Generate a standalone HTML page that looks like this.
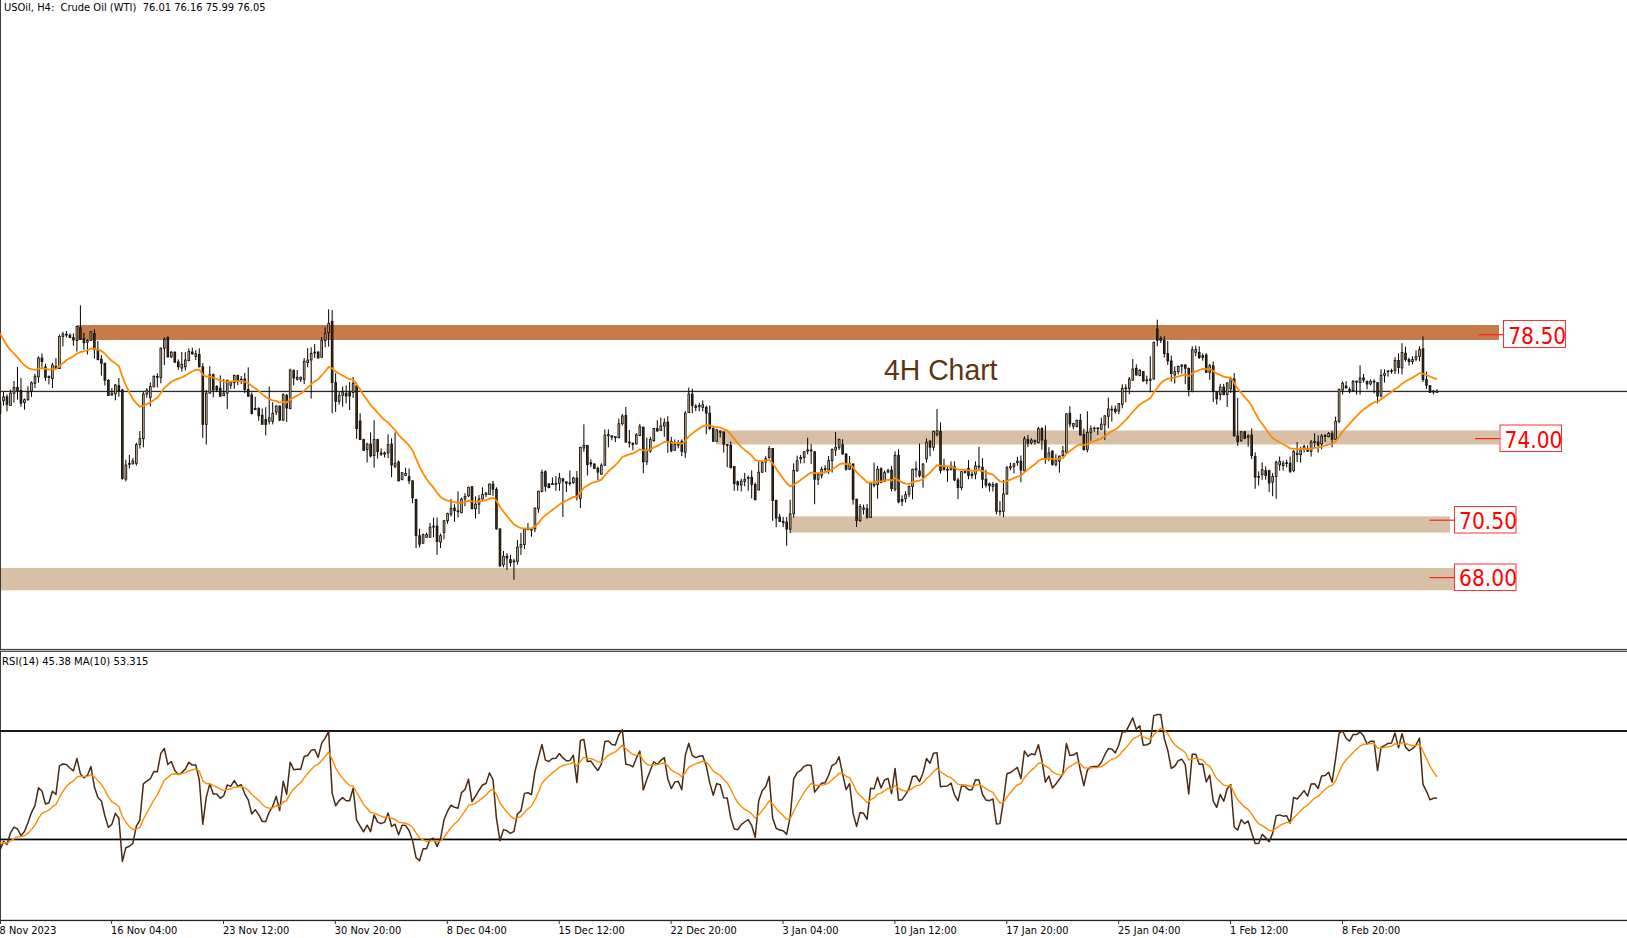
<!DOCTYPE html>
<html><head><meta charset="utf-8"><title>USOil H4</title>
<style>html,body{margin:0;padding:0;background:#fff;}svg{display:block;}</style></head>
<body><svg width="1627" height="938" viewBox="0 0 1627 938">
<rect x="0" y="0" width="1627" height="938" fill="#fff"/>
<rect x="77" y="325" width="1422" height="15" fill="#c57c4a"/>
<rect x="716" y="430.5" width="783" height="14" fill="#d8c0a6"/>
<rect x="790" y="516.4" width="660" height="16.2" fill="#d8c0a6"/>
<rect x="0" y="568" width="1454" height="22.3" fill="#d8c0a6"/>
<rect x="0" y="0" width="1" height="924" fill="#3c3c3c"/>
<rect x="0" y="390.8" width="1627" height="1.3" fill="#2a2a2a"/>
<text x="884" y="379.7" font-family="Liberation Sans, Arial, sans-serif" font-size="29.8" fill="#5a3614" textLength="113.5" lengthAdjust="spacingAndGlyphs">4H Chart</text>
<path d="M0.00 401.0V414.0M3.50 392.0V405.5M6.99 394.4V411.4M10.49 389.7V405.5M13.99 381.0V402.6M17.48 366.9V399.7M20.98 378.0V406.7M24.47 398.5V409.7M27.97 386.2V400.9M31.47 381.5V396.8M34.96 373.9V388.0M38.46 356.3V382.7M41.96 353.4V367.4M45.45 363.9V380.9M48.95 375.7V384.4M52.44 362.8V388.0M55.94 358.0V368.6M59.44 334.6V369.2M62.93 331.7V346.3M66.43 331.0V337.5M69.93 333.4V338.1M73.42 333.4V345.7M76.92 325.8V351.6M80.41 305.3V339.9M83.91 332.8V349.8M87.41 339.3V354.5M90.90 331.1V340.5M94.40 329.3V358.6M97.90 341.0V359.8M101.39 355.1V375.6M104.89 362.7V385.6M108.39 379.2V395.6M111.88 388.0V395.6M115.38 383.9V400.3M118.87 378.0V396.8M122.37 388.8V479.7M125.87 459.7V481.4M129.36 455.0V468.5M132.86 458.0V464.4M136.36 442.7V465.6M139.85 431.0V448.6M143.35 391.7V447.4M146.84 388.2V397.6M150.34 382.3V406.4M153.84 375.6V387.4M157.33 373.3V387.4M160.83 347.5V383.3M164.33 337.5V365.1M167.82 336.4V357.5M171.32 351.0V358.0M174.81 351.5V362.5M178.31 359.4V369.8M181.81 352.0V371.7M185.30 352.0V370.5M188.80 348.4V361.3M192.30 347.8V354.5M195.79 350.2V360.0M199.29 348.4V367.4M202.79 363.1V437.9M206.28 390.0V444.6M209.78 366.2V393.7M213.27 373.5V397.4M216.77 385.2V391.9M220.27 375.4V396.8M223.76 379.0V396.2M227.26 379.6V409.1M230.76 380.9V388.8M234.25 374.7V388.8M237.75 374.7V385.2M241.24 376.0V384.0M244.74 372.9V393.1M248.24 367.4V396.8M251.73 392.5V414.6M255.23 396.8V409.7M258.73 407.2V420.7M262.22 408.5V424.4M265.72 407.2V435.4M269.22 386.4V424.4M272.71 402.3V424.4M276.21 405.4V415.2M279.70 405.4V421.3M283.20 393.3V421.3M286.70 394.0V422.0M290.19 368.6V409.3M293.69 369.3V385.3M297.19 370.0V380.6M300.68 376.6V382.0M304.18 358.0V384.0M307.67 348.0V367.3M311.17 347.3V398.6M314.67 344.0V358.0M318.16 351.3V358.6M321.66 337.3V357.3M325.16 327.3V347.3M328.65 309.3V346.6M332.15 310.0V413.3M335.64 373.3V412.0M339.14 392.0V404.6M342.64 386.6V406.6M346.13 385.3V403.3M349.63 382.0V410.0M353.13 377.0V398.0M356.62 382.6V438.8M360.12 413.3V439.5M363.62 438.8V451.0M367.11 442.7V462.5M370.61 432.4V457.4M374.10 420.3V467.6M377.60 438.8V458.7M381.10 448.4V456.0M384.59 451.6V457.4M388.09 434.4V458.0M391.59 438.2V477.2M395.08 432.4V468.3M398.58 460.6V481.0M402.07 472.1V479.8M405.57 467.6V476.0M409.07 468.5V484.0M412.56 480.3V503.2M416.06 498.9V548.0M419.56 528.8V547.4M423.05 533.6V543.7M426.55 532.5V537.3M430.04 522.9V537.3M433.54 517.6V537.3M437.04 517.6V554.9M440.53 533.6V548.0M444.03 519.8V539.4M447.53 512.7V523.7M451.02 498.9V516.5M454.52 504.2V521.8M458.02 491.3V517.4M461.51 497.7V513.3M465.01 493.2V506.2M468.50 486.7V497.0M472.00 486.0V508.8M475.50 496.4V518.5M478.99 495.1V514.0M482.49 487.3V499.7M485.99 491.9V497.0M489.48 483.4V494.5M492.98 480.8V495.8M496.47 487.3V529.6M499.97 528.3V566.6M503.47 551.0V567.3M506.96 553.0V569.9M510.46 554.9V566.6M513.96 558.8V579.7M517.45 540.0V564.7M520.95 532.8V554.9M524.45 528.3V549.1M527.94 523.1V529.6M531.44 528.3V536.7M534.93 507.5V532.2M538.43 490.6V512.7M541.93 469.7V492.1M545.42 470.4V491.5M548.92 483.2V488.3M552.42 477.4V485.0M555.91 476.1V490.8M559.41 472.9V490.8M562.90 478.0V517.0M566.40 481.2V492.1M569.90 470.4V485.7M573.39 476.8V483.8M576.89 471.0V500.4M580.39 446.7V508.1M583.88 424.3V451.8M587.38 445.4V475.5M590.87 459.5V467.2M594.37 463.3V469.1M597.87 466.5V480.0M601.36 463.3V474.8M604.86 429.4V465.9M608.36 429.4V447.3M611.85 435.2V440.3M615.35 436.5V442.2M618.85 418.5V438.4M622.34 414.1V425.6M625.84 407.0V442.2M629.33 430.0V447.5M632.83 442.6V450.2M636.33 433.0V444.5M639.82 424.0V436.2M643.32 426.6V473.3M646.82 437.5V465.0M650.31 436.8V452.8M653.81 427.9V441.9M657.30 420.2V431.7M660.80 417.6V431.0M664.30 418.3V436.8M667.79 416.3V452.8M671.29 436.8V452.2M674.79 439.4V450.9M678.28 440.0V448.3M681.78 439.4V456.0M685.27 411.2V457.9M688.77 387.6V413.1M692.27 388.8V413.1M695.76 404.2V411.2M699.26 402.9V411.2M702.76 400.4V411.2M706.25 405.5V434.3M709.75 405.5V429.8M713.25 425.9V441.9M716.74 429.1V441.9M720.24 430.4V437.5M723.73 431.5V452.6M727.23 444.1V467.1M730.73 441.5V468.4M734.22 466.5V490.8M737.72 480.5V490.8M741.22 478.6V491.4M744.71 472.9V486.3M748.21 475.4V490.8M751.70 470.3V498.4M755.20 482.4V500.4M758.70 462.0V490.1M762.19 461.3V472.9M765.69 456.2V472.2M769.19 446.0V458.8M772.68 447.9V520.8M776.18 499.7V527.2M779.67 513.8V522.1M783.17 517.0V527.2M786.67 517.0V545.8M790.16 499.7V533.0M793.66 463.3V517.6M797.16 455.6V471.6M800.65 454.9V463.3M804.15 451.1V463.3M807.65 437.7V454.3M811.14 444.1V463.9M814.64 451.1V504.2M818.13 472.9V485.0M821.63 466.6V478.6M825.13 465.3V473.3M828.62 456.0V474.0M832.12 448.6V472.6M835.62 432.0V456.0M839.11 438.6V450.0M842.61 439.3V454.6M846.10 453.3V470.6M849.60 456.0V470.0M853.10 463.3V504.6M856.59 498.6V527.0M860.09 504.0V522.0M863.59 504.6V514.6M867.08 504.0V518.6M870.58 482.6V518.0M874.08 462.6V487.3M877.57 466.0V498.6M881.07 467.3V483.3M884.56 470.6V482.0M888.06 468.6V473.3M891.56 466.0V491.3M895.05 451.3V491.3M898.55 449.3V503.3M902.05 495.3V506.0M905.54 491.3V502.6M909.04 485.3V497.3M912.53 468.6V499.3M916.03 461.3V477.3M919.53 443.5V477.4M923.02 463.3V487.6M926.52 438.4V462.7M930.02 440.3V456.3M933.51 430.7V450.5M937.01 409.0V436.5M940.50 422.4V473.6M944.00 458.8V470.4M947.50 466.5V481.9M950.99 461.4V470.4M954.49 461.4V481.2M957.99 478.0V499.1M961.48 471.0V490.2M964.98 470.4V473.6M968.48 460.1V479.3M971.97 471.6V478.7M975.47 461.4V479.3M978.96 446.7V469.7M982.46 458.2V488.3M985.96 469.7V487.6M989.45 482.5V491.5M992.95 481.9V491.5M996.45 483.2V514.5M999.94 501.1V515.8M1003.44 480.0V517.0M1006.93 465.9V494.7M1010.43 462.7V470.4M1013.93 463.2V473.4M1017.42 456.8V465.7M1020.92 455.5V482.3M1024.42 436.3V472.1M1027.91 435.0V447.2M1031.41 438.2V444.6M1034.90 439.5V444.6M1038.40 426.7V443.3M1041.90 427.3V449.7M1045.39 425.4V463.8M1048.89 447.2V461.2M1052.39 450.4V465.7M1055.88 454.2V466.4M1059.38 455.5V472.7M1062.88 445.9V456.8M1066.37 413.3V452.9M1069.87 406.2V427.3M1073.36 422.9V429.3M1076.86 419.7V427.3M1080.36 413.9V435.6M1083.85 428.6V450.4M1087.35 411.3V452.3M1090.85 425.4V440.8M1094.34 426.7V431.8M1097.84 427.3V435.0M1101.33 417.7V429.9M1104.83 415.2V440.1M1108.33 397.6V428.3M1111.82 405.6V421.6M1115.32 405.6V413.6M1118.82 403.0V414.3M1122.31 384.3V408.3M1125.81 384.3V402.3M1129.30 377.0V394.3M1132.80 359.0V380.3M1136.30 364.3V375.6M1139.79 369.0V376.3M1143.29 371.0V381.6M1146.79 375.6V384.3M1150.28 356.3V392.3M1153.78 341.6V379.6M1157.28 319.7V346.3M1160.77 336.3V343.0M1164.27 336.3V357.6M1167.76 341.0V365.0M1171.26 355.6V381.6M1174.76 366.3V383.6M1178.25 365.6V374.3M1181.75 364.3V373.6M1185.25 364.3V384.3M1188.74 367.6V396.3M1192.24 346.3V392.3M1195.73 345.6V356.3M1199.23 346.3V359.0M1202.73 353.3V360.7M1206.22 353.3V373.1M1209.72 364.0V379.7M1213.22 361.5V402.0M1216.71 391.3V404.5M1220.21 383.8V400.4M1223.71 383.8V395.4M1227.20 382.2V407.0M1230.70 378.0V393.0M1234.19 373.1V436.7M1237.69 397.9V445.8M1241.19 430.9V441.7M1244.68 430.9V439.2M1248.18 434.2V446.6M1251.68 428.4V459.0M1255.17 452.4V488.8M1258.67 471.4V485.5M1262.16 462.3V479.7M1265.66 466.4V479.7M1269.16 469.7V492.1M1272.65 473.1V496.2M1276.15 460.7V498.7M1279.65 456.5V470.6M1283.14 460.7V470.6M1286.64 459.8V467.3M1290.13 456.5V473.1M1293.63 450.0V472.2M1297.13 442.0V462.0M1300.62 446.6V462.6M1304.12 444.6V452.6M1307.62 445.3V452.0M1311.11 440.0V456.6M1314.61 433.3V448.0M1318.11 435.3V452.6M1321.60 434.0V449.3M1325.10 434.0V442.0M1328.59 432.0V437.3M1332.09 430.6V447.3M1335.59 416.6V440.0M1339.08 388.6V423.3M1342.58 381.3V394.6M1346.08 381.3V388.6M1349.57 387.3V393.3M1353.07 380.0V391.3M1356.56 380.6V394.6M1360.06 365.3V394.6M1363.56 374.0V382.6M1367.05 380.6V389.3M1370.55 379.3V385.3M1374.05 379.3V393.3M1377.54 382.0V403.3M1381.04 369.3V397.3M1384.53 369.3V382.6M1388.03 370.6V376.6M1391.53 368.8V373.6M1395.02 357.2V374.0M1398.52 353.2V373.6M1402.02 343.2V374.4M1405.51 346.8V361.6M1409.01 357.6V365.6M1412.51 356.4V364.4M1416.00 350.4V361.2M1419.50 346.4V361.2M1422.99 336.4V382.0M1426.49 371.6V388.8M1429.99 385.2V392.8M1433.48 390.0V394.4M1436.98 389.2V392.8" stroke="#000" stroke-width="1.0" fill="none"/>
<rect x="-1.31" y="402.20" width="2.62" height="11.40" fill="#121212"/><rect x="-0.44" y="403.05" width="0.87" height="9.70" fill="#48290f"/><rect x="2.19" y="396.40" width="2.62" height="4.90" fill="#121212"/><rect x="3.06" y="397.25" width="0.87" height="3.20" fill="#d2b48c"/><rect x="5.68" y="396.40" width="2.62" height="8.40" fill="#121212"/><rect x="6.56" y="397.25" width="0.87" height="6.70" fill="#48290f"/><rect x="9.18" y="392.80" width="2.62" height="13.10" fill="#121212"/><rect x="10.05" y="393.65" width="0.87" height="11.40" fill="#d2b48c"/><rect x="12.68" y="387.00" width="2.62" height="6.60" fill="#121212"/><rect x="13.55" y="387.85" width="0.87" height="4.90" fill="#d2b48c"/><rect x="16.17" y="387.00" width="2.62" height="4.30" fill="#121212"/><rect x="17.04" y="387.85" width="0.87" height="2.60" fill="#48290f"/><rect x="19.67" y="389.90" width="2.62" height="13.70" fill="#121212"/><rect x="20.54" y="390.75" width="0.87" height="12.00" fill="#48290f"/><rect x="23.16" y="399.30" width="2.62" height="3.70" fill="#121212"/><rect x="24.04" y="400.15" width="0.87" height="2.00" fill="#d2b48c"/><rect x="26.66" y="391.60" width="2.62" height="8.50" fill="#121212"/><rect x="27.53" y="392.45" width="0.87" height="6.80" fill="#d2b48c"/><rect x="30.16" y="382.30" width="2.62" height="9.00" fill="#121212"/><rect x="31.03" y="383.15" width="0.87" height="7.30" fill="#d2b48c"/><rect x="33.65" y="375.80" width="2.62" height="7.90" fill="#121212"/><rect x="34.53" y="376.65" width="0.87" height="6.20" fill="#d2b48c"/><rect x="37.15" y="357.60" width="2.62" height="19.60" fill="#121212"/><rect x="38.02" y="358.45" width="0.87" height="17.90" fill="#d2b48c"/><rect x="40.65" y="357.60" width="2.62" height="4.40" fill="#121212"/><rect x="41.52" y="358.45" width="0.87" height="2.70" fill="#48290f"/><rect x="44.14" y="366.50" width="2.62" height="11.30" fill="#121212"/><rect x="45.01" y="367.35" width="0.87" height="9.60" fill="#48290f"/><rect x="47.64" y="375.80" width="2.62" height="2.00" fill="#121212"/><rect x="48.51" y="376.65" width="0.87" height="0.30" fill="#d2b48c"/><rect x="51.13" y="364.70" width="2.62" height="14.30" fill="#121212"/><rect x="52.01" y="365.55" width="0.87" height="12.60" fill="#d2b48c"/><rect x="54.63" y="365.90" width="2.62" height="3.10" fill="#121212"/><rect x="55.50" y="366.75" width="0.87" height="1.40" fill="#48290f"/><rect x="58.13" y="336.00" width="2.62" height="33.00" fill="#121212"/><rect x="59.00" y="336.85" width="0.87" height="31.30" fill="#d2b48c"/><rect x="61.62" y="333.60" width="2.62" height="3.20" fill="#121212"/><rect x="62.50" y="334.45" width="0.87" height="1.50" fill="#d2b48c"/><rect x="65.12" y="333.80" width="2.62" height="1.70" fill="#121212"/><rect x="68.62" y="334.80" width="2.62" height="3.10" fill="#121212"/><rect x="69.49" y="335.65" width="0.87" height="1.40" fill="#48290f"/><rect x="72.11" y="337.10" width="2.62" height="3.20" fill="#121212"/><rect x="72.99" y="337.95" width="0.87" height="1.50" fill="#48290f"/><rect x="75.61" y="326.00" width="2.62" height="14.90" fill="#121212"/><rect x="76.48" y="326.85" width="0.87" height="13.20" fill="#d2b48c"/><rect x="79.10" y="327.20" width="2.62" height="12.50" fill="#121212"/><rect x="79.98" y="328.05" width="0.87" height="10.80" fill="#48290f"/><rect x="82.60" y="338.30" width="2.62" height="4.90" fill="#121212"/><rect x="83.47" y="339.15" width="0.87" height="3.20" fill="#48290f"/><rect x="86.10" y="340.10" width="2.62" height="2.50" fill="#121212"/><rect x="86.97" y="340.95" width="0.87" height="0.80" fill="#d2b48c"/><rect x="89.59" y="331.30" width="2.62" height="9.60" fill="#121212"/><rect x="90.47" y="332.15" width="0.87" height="7.90" fill="#d2b48c"/><rect x="93.09" y="333.00" width="2.62" height="16.70" fill="#121212"/><rect x="93.96" y="333.85" width="0.87" height="15.00" fill="#48290f"/><rect x="96.59" y="348.90" width="2.62" height="11.30" fill="#121212"/><rect x="97.46" y="349.75" width="0.87" height="9.60" fill="#48290f"/><rect x="100.08" y="358.80" width="2.62" height="4.90" fill="#121212"/><rect x="100.96" y="359.65" width="0.87" height="3.20" fill="#48290f"/><rect x="103.58" y="362.90" width="2.62" height="17.80" fill="#121212"/><rect x="104.45" y="363.75" width="0.87" height="16.10" fill="#48290f"/><rect x="107.08" y="379.90" width="2.62" height="16.10" fill="#121212"/><rect x="107.95" y="380.75" width="0.87" height="14.40" fill="#48290f"/><rect x="110.57" y="392.80" width="2.62" height="2.60" fill="#121212"/><rect x="111.44" y="393.65" width="0.87" height="0.90" fill="#d2b48c"/><rect x="114.07" y="384.60" width="2.62" height="9.60" fill="#121212"/><rect x="114.94" y="385.45" width="0.87" height="7.90" fill="#d2b48c"/><rect x="117.56" y="385.20" width="2.62" height="6.10" fill="#121212"/><rect x="118.44" y="386.05" width="0.87" height="4.40" fill="#48290f"/><rect x="121.06" y="389.60" width="2.62" height="89.30" fill="#121212"/><rect x="121.93" y="390.45" width="0.87" height="87.60" fill="#48290f"/><rect x="124.56" y="464.60" width="2.62" height="14.90" fill="#121212"/><rect x="125.43" y="465.45" width="0.87" height="13.20" fill="#d2b48c"/><rect x="128.05" y="463.05" width="2.62" height="1.70" fill="#121212"/><rect x="131.55" y="460.50" width="2.62" height="3.80" fill="#121212"/><rect x="132.42" y="461.35" width="0.87" height="2.10" fill="#d2b48c"/><rect x="135.05" y="444.10" width="2.62" height="19.60" fill="#121212"/><rect x="135.92" y="444.95" width="0.87" height="17.90" fill="#d2b48c"/><rect x="138.54" y="438.20" width="2.62" height="6.70" fill="#121212"/><rect x="139.41" y="439.05" width="0.87" height="5.00" fill="#d2b48c"/><rect x="142.04" y="393.60" width="2.62" height="45.40" fill="#121212"/><rect x="142.91" y="394.45" width="0.87" height="43.70" fill="#d2b48c"/><rect x="145.53" y="389.60" width="2.62" height="4.80" fill="#121212"/><rect x="146.41" y="390.45" width="0.87" height="3.10" fill="#d2b48c"/><rect x="149.03" y="386.10" width="2.62" height="11.60" fill="#121212"/><rect x="149.90" y="386.95" width="0.87" height="9.90" fill="#d2b48c"/><rect x="152.53" y="375.80" width="2.62" height="11.40" fill="#121212"/><rect x="153.40" y="376.65" width="0.87" height="9.70" fill="#d2b48c"/><rect x="156.02" y="375.95" width="2.62" height="1.70" fill="#121212"/><rect x="159.52" y="347.70" width="2.62" height="30.10" fill="#121212"/><rect x="160.39" y="348.55" width="0.87" height="28.40" fill="#d2b48c"/><rect x="163.02" y="338.90" width="2.62" height="9.60" fill="#121212"/><rect x="163.89" y="339.75" width="0.87" height="7.90" fill="#d2b48c"/><rect x="166.51" y="337.10" width="2.62" height="20.20" fill="#121212"/><rect x="167.39" y="337.95" width="0.87" height="18.50" fill="#48290f"/><rect x="170.01" y="351.80" width="2.62" height="5.50" fill="#121212"/><rect x="170.88" y="352.65" width="0.87" height="3.80" fill="#d2b48c"/><rect x="173.50" y="351.70" width="2.62" height="11.00" fill="#121212"/><rect x="174.38" y="352.55" width="0.87" height="9.30" fill="#48290f"/><rect x="177.00" y="361.50" width="2.62" height="5.70" fill="#121212"/><rect x="177.87" y="362.35" width="0.87" height="4.00" fill="#48290f"/><rect x="180.50" y="363.90" width="2.62" height="4.50" fill="#121212"/><rect x="181.37" y="364.75" width="0.87" height="2.80" fill="#d2b48c"/><rect x="183.99" y="359.60" width="2.62" height="7.60" fill="#121212"/><rect x="184.87" y="360.45" width="0.87" height="5.90" fill="#d2b48c"/><rect x="187.49" y="351.10" width="2.62" height="9.90" fill="#121212"/><rect x="188.36" y="351.95" width="0.87" height="8.20" fill="#d2b48c"/><rect x="190.99" y="351.60" width="2.62" height="2.70" fill="#121212"/><rect x="191.86" y="352.45" width="0.87" height="1.00" fill="#48290f"/><rect x="194.48" y="353.50" width="2.62" height="3.30" fill="#121212"/><rect x="195.36" y="354.35" width="0.87" height="1.60" fill="#d2b48c"/><rect x="197.98" y="354.10" width="2.62" height="13.10" fill="#121212"/><rect x="198.85" y="354.95" width="0.87" height="11.40" fill="#48290f"/><rect x="201.48" y="366.40" width="2.62" height="58.40" fill="#121212"/><rect x="202.35" y="367.25" width="0.87" height="56.70" fill="#48290f"/><rect x="204.97" y="392.70" width="2.62" height="32.10" fill="#121212"/><rect x="205.84" y="393.55" width="0.87" height="30.40" fill="#d2b48c"/><rect x="208.47" y="374.30" width="2.62" height="19.20" fill="#121212"/><rect x="209.34" y="375.15" width="0.87" height="17.50" fill="#d2b48c"/><rect x="211.96" y="374.30" width="2.62" height="16.10" fill="#121212"/><rect x="212.84" y="375.15" width="0.87" height="14.40" fill="#48290f"/><rect x="215.46" y="386.00" width="2.62" height="4.40" fill="#121212"/><rect x="216.33" y="386.85" width="0.87" height="2.70" fill="#48290f"/><rect x="218.96" y="387.80" width="2.62" height="8.80" fill="#121212"/><rect x="219.83" y="388.65" width="0.87" height="7.10" fill="#48290f"/><rect x="222.45" y="392.70" width="2.62" height="3.30" fill="#121212"/><rect x="223.33" y="393.55" width="0.87" height="1.60" fill="#d2b48c"/><rect x="225.95" y="379.90" width="2.62" height="13.60" fill="#121212"/><rect x="226.82" y="380.75" width="0.87" height="11.90" fill="#d2b48c"/><rect x="229.45" y="381.70" width="2.62" height="3.90" fill="#121212"/><rect x="230.32" y="382.55" width="0.87" height="2.20" fill="#d2b48c"/><rect x="232.94" y="375.00" width="2.62" height="8.10" fill="#121212"/><rect x="233.82" y="375.85" width="0.87" height="6.40" fill="#d2b48c"/><rect x="236.44" y="375.00" width="2.62" height="6.90" fill="#121212"/><rect x="237.31" y="375.85" width="0.87" height="5.20" fill="#48290f"/><rect x="239.93" y="378.75" width="2.62" height="1.70" fill="#121212"/><rect x="243.43" y="378.60" width="2.62" height="11.30" fill="#121212"/><rect x="244.30" y="379.45" width="0.87" height="9.60" fill="#48290f"/><rect x="246.93" y="389.10" width="2.62" height="7.50" fill="#121212"/><rect x="247.80" y="389.95" width="0.87" height="5.80" fill="#48290f"/><rect x="250.42" y="394.60" width="2.62" height="19.20" fill="#121212"/><rect x="251.30" y="395.45" width="0.87" height="17.50" fill="#48290f"/><rect x="253.92" y="408.10" width="2.62" height="2.00" fill="#121212"/><rect x="254.79" y="408.95" width="0.87" height="0.30" fill="#48290f"/><rect x="257.42" y="408.10" width="2.62" height="8.10" fill="#121212"/><rect x="258.29" y="408.95" width="0.87" height="6.40" fill="#48290f"/><rect x="260.91" y="414.80" width="2.62" height="10.00" fill="#121212"/><rect x="261.79" y="415.65" width="0.87" height="8.30" fill="#48290f"/><rect x="264.41" y="419.10" width="2.62" height="5.70" fill="#121212"/><rect x="265.28" y="419.95" width="0.87" height="4.00" fill="#48290f"/><rect x="267.91" y="417.30" width="2.62" height="4.40" fill="#121212"/><rect x="268.78" y="418.15" width="0.87" height="2.70" fill="#d2b48c"/><rect x="271.40" y="413.00" width="2.62" height="8.70" fill="#121212"/><rect x="272.27" y="413.85" width="0.87" height="7.00" fill="#d2b48c"/><rect x="274.90" y="405.60" width="2.62" height="6.90" fill="#121212"/><rect x="275.77" y="406.45" width="0.87" height="5.20" fill="#d2b48c"/><rect x="278.39" y="405.60" width="2.62" height="14.90" fill="#121212"/><rect x="279.27" y="406.45" width="0.87" height="13.20" fill="#48290f"/><rect x="281.89" y="394.20" width="2.62" height="26.20" fill="#121212"/><rect x="282.76" y="395.05" width="0.87" height="24.50" fill="#d2b48c"/><rect x="285.39" y="394.90" width="2.62" height="13.50" fill="#121212"/><rect x="286.26" y="395.75" width="0.87" height="11.80" fill="#48290f"/><rect x="288.88" y="369.60" width="2.62" height="39.40" fill="#121212"/><rect x="289.76" y="370.45" width="0.87" height="37.70" fill="#d2b48c"/><rect x="292.38" y="370.20" width="2.62" height="8.20" fill="#121212"/><rect x="293.25" y="371.05" width="0.87" height="6.50" fill="#48290f"/><rect x="295.88" y="376.90" width="2.62" height="2.80" fill="#121212"/><rect x="296.75" y="377.75" width="0.87" height="1.10" fill="#d2b48c"/><rect x="299.37" y="376.90" width="2.62" height="2.80" fill="#121212"/><rect x="300.24" y="377.75" width="0.87" height="1.10" fill="#d2b48c"/><rect x="302.87" y="360.90" width="2.62" height="18.80" fill="#121212"/><rect x="303.74" y="361.75" width="0.87" height="17.10" fill="#d2b48c"/><rect x="306.36" y="359.60" width="2.62" height="3.40" fill="#121212"/><rect x="307.24" y="360.45" width="0.87" height="1.70" fill="#d2b48c"/><rect x="309.86" y="352.90" width="2.62" height="7.50" fill="#121212"/><rect x="310.73" y="353.75" width="0.87" height="5.80" fill="#d2b48c"/><rect x="313.36" y="351.75" width="2.62" height="1.70" fill="#121212"/><rect x="316.85" y="351.60" width="2.62" height="6.80" fill="#121212"/><rect x="317.73" y="352.45" width="0.87" height="5.10" fill="#48290f"/><rect x="320.35" y="340.20" width="2.62" height="17.50" fill="#121212"/><rect x="321.22" y="341.05" width="0.87" height="15.80" fill="#d2b48c"/><rect x="323.85" y="332.90" width="2.62" height="8.10" fill="#121212"/><rect x="324.72" y="333.75" width="0.87" height="6.40" fill="#d2b48c"/><rect x="327.34" y="322.90" width="2.62" height="10.10" fill="#121212"/><rect x="328.22" y="323.75" width="0.87" height="8.40" fill="#d2b48c"/><rect x="330.84" y="320.90" width="2.62" height="62.10" fill="#121212"/><rect x="331.71" y="321.75" width="0.87" height="60.40" fill="#48290f"/><rect x="334.33" y="382.20" width="2.62" height="19.50" fill="#121212"/><rect x="335.21" y="383.05" width="0.87" height="17.80" fill="#48290f"/><rect x="337.83" y="394.90" width="2.62" height="6.80" fill="#121212"/><rect x="338.70" y="395.75" width="0.87" height="5.10" fill="#d2b48c"/><rect x="341.33" y="391.60" width="2.62" height="4.10" fill="#121212"/><rect x="342.20" y="392.45" width="0.87" height="2.40" fill="#d2b48c"/><rect x="344.82" y="392.90" width="2.62" height="3.50" fill="#121212"/><rect x="345.70" y="393.75" width="0.87" height="1.80" fill="#48290f"/><rect x="348.32" y="391.60" width="2.62" height="4.80" fill="#121212"/><rect x="349.19" y="392.45" width="0.87" height="3.10" fill="#48290f"/><rect x="351.82" y="382.90" width="2.62" height="10.00" fill="#121212"/><rect x="352.69" y="383.75" width="0.87" height="8.30" fill="#d2b48c"/><rect x="355.31" y="385.40" width="2.62" height="43.60" fill="#121212"/><rect x="356.19" y="386.25" width="0.87" height="41.90" fill="#48290f"/><rect x="358.81" y="420.60" width="2.62" height="19.30" fill="#121212"/><rect x="359.68" y="421.45" width="0.87" height="17.60" fill="#48290f"/><rect x="362.31" y="439.10" width="2.62" height="11.70" fill="#121212"/><rect x="363.18" y="439.95" width="0.87" height="10.00" fill="#48290f"/><rect x="365.80" y="443.60" width="2.62" height="6.50" fill="#121212"/><rect x="366.67" y="444.45" width="0.87" height="4.80" fill="#d2b48c"/><rect x="369.30" y="443.60" width="2.62" height="12.80" fill="#121212"/><rect x="370.17" y="444.45" width="0.87" height="11.10" fill="#48290f"/><rect x="372.79" y="439.10" width="2.62" height="16.80" fill="#121212"/><rect x="373.67" y="439.95" width="0.87" height="15.10" fill="#d2b48c"/><rect x="376.29" y="439.10" width="2.62" height="12.90" fill="#121212"/><rect x="377.16" y="439.95" width="0.87" height="11.20" fill="#48290f"/><rect x="379.79" y="452.50" width="2.62" height="2.10" fill="#121212"/><rect x="380.66" y="453.35" width="0.87" height="0.40" fill="#48290f"/><rect x="383.28" y="452.50" width="2.62" height="2.10" fill="#121212"/><rect x="384.16" y="453.35" width="0.87" height="0.40" fill="#d2b48c"/><rect x="386.78" y="444.20" width="2.62" height="9.10" fill="#121212"/><rect x="387.65" y="445.05" width="0.87" height="7.40" fill="#d2b48c"/><rect x="390.28" y="443.60" width="2.62" height="21.80" fill="#121212"/><rect x="391.15" y="444.45" width="0.87" height="20.10" fill="#48290f"/><rect x="393.77" y="462.80" width="2.62" height="4.00" fill="#121212"/><rect x="394.64" y="463.65" width="0.87" height="2.30" fill="#d2b48c"/><rect x="397.27" y="461.50" width="2.62" height="19.90" fill="#121212"/><rect x="398.14" y="462.35" width="0.87" height="18.20" fill="#48290f"/><rect x="400.76" y="472.30" width="2.62" height="7.90" fill="#121212"/><rect x="401.64" y="473.15" width="0.87" height="6.20" fill="#d2b48c"/><rect x="404.26" y="473.00" width="2.62" height="2.70" fill="#121212"/><rect x="405.13" y="473.85" width="0.87" height="1.00" fill="#d2b48c"/><rect x="407.76" y="476.10" width="2.62" height="5.10" fill="#121212"/><rect x="408.63" y="476.95" width="0.87" height="3.40" fill="#48290f"/><rect x="411.25" y="480.40" width="2.62" height="17.80" fill="#121212"/><rect x="412.13" y="481.25" width="0.87" height="16.10" fill="#48290f"/><rect x="414.75" y="499.00" width="2.62" height="37.10" fill="#121212"/><rect x="415.62" y="499.85" width="0.87" height="35.40" fill="#48290f"/><rect x="418.25" y="535.30" width="2.62" height="9.30" fill="#121212"/><rect x="419.12" y="536.15" width="0.87" height="7.60" fill="#48290f"/><rect x="421.74" y="534.20" width="2.62" height="9.40" fill="#121212"/><rect x="422.62" y="535.05" width="0.87" height="7.70" fill="#d2b48c"/><rect x="425.24" y="534.20" width="2.62" height="3.50" fill="#121212"/><rect x="426.11" y="535.05" width="0.87" height="1.80" fill="#d2b48c"/><rect x="428.73" y="526.80" width="2.62" height="10.90" fill="#121212"/><rect x="429.61" y="527.65" width="0.87" height="9.20" fill="#d2b48c"/><rect x="432.23" y="525.75" width="2.62" height="1.70" fill="#121212"/><rect x="433.10" y="526.60" width="0.87" height="0.00" fill="#d2b48c"/><rect x="435.73" y="525.70" width="2.62" height="16.30" fill="#121212"/><rect x="436.60" y="526.55" width="0.87" height="14.60" fill="#48290f"/><rect x="439.22" y="535.30" width="2.62" height="7.20" fill="#121212"/><rect x="440.10" y="536.15" width="0.87" height="5.50" fill="#d2b48c"/><rect x="442.72" y="520.40" width="2.62" height="12.50" fill="#121212"/><rect x="443.59" y="521.25" width="0.87" height="10.80" fill="#d2b48c"/><rect x="446.22" y="513.10" width="2.62" height="8.10" fill="#121212"/><rect x="447.09" y="513.95" width="0.87" height="6.40" fill="#d2b48c"/><rect x="449.71" y="507.90" width="2.62" height="6.70" fill="#121212"/><rect x="450.59" y="508.75" width="0.87" height="5.00" fill="#d2b48c"/><rect x="453.21" y="507.70" width="2.62" height="3.40" fill="#121212"/><rect x="454.08" y="508.55" width="0.87" height="1.70" fill="#48290f"/><rect x="456.71" y="510.45" width="2.62" height="1.70" fill="#121212"/><rect x="460.20" y="498.60" width="2.62" height="14.50" fill="#121212"/><rect x="461.07" y="499.45" width="0.87" height="12.80" fill="#d2b48c"/><rect x="463.70" y="496.00" width="2.62" height="3.40" fill="#121212"/><rect x="464.57" y="496.85" width="0.87" height="1.70" fill="#d2b48c"/><rect x="467.19" y="486.90" width="2.62" height="9.30" fill="#121212"/><rect x="468.07" y="487.75" width="0.87" height="7.60" fill="#d2b48c"/><rect x="470.69" y="486.30" width="2.62" height="22.90" fill="#121212"/><rect x="471.56" y="487.15" width="0.87" height="21.20" fill="#48290f"/><rect x="474.19" y="503.80" width="2.62" height="5.40" fill="#121212"/><rect x="475.06" y="504.65" width="0.87" height="3.70" fill="#d2b48c"/><rect x="477.68" y="498.60" width="2.62" height="6.00" fill="#121212"/><rect x="478.56" y="499.45" width="0.87" height="4.30" fill="#d2b48c"/><rect x="481.18" y="494.10" width="2.62" height="5.30" fill="#121212"/><rect x="482.05" y="494.95" width="0.87" height="3.60" fill="#d2b48c"/><rect x="484.68" y="492.80" width="2.62" height="2.10" fill="#121212"/><rect x="485.55" y="493.65" width="0.87" height="0.40" fill="#d2b48c"/><rect x="488.17" y="483.70" width="2.62" height="11.20" fill="#121212"/><rect x="489.05" y="484.55" width="0.87" height="9.50" fill="#d2b48c"/><rect x="491.67" y="483.70" width="2.62" height="6.00" fill="#121212"/><rect x="492.54" y="484.55" width="0.87" height="4.30" fill="#48290f"/><rect x="495.16" y="488.90" width="2.62" height="40.40" fill="#121212"/><rect x="496.04" y="489.75" width="0.87" height="38.70" fill="#48290f"/><rect x="498.66" y="528.50" width="2.62" height="37.90" fill="#121212"/><rect x="499.53" y="529.35" width="0.87" height="36.20" fill="#48290f"/><rect x="502.16" y="555.80" width="2.62" height="9.30" fill="#121212"/><rect x="503.03" y="556.65" width="0.87" height="7.60" fill="#d2b48c"/><rect x="505.65" y="555.80" width="2.62" height="2.80" fill="#121212"/><rect x="506.53" y="556.65" width="0.87" height="1.10" fill="#48290f"/><rect x="509.15" y="559.10" width="2.62" height="4.00" fill="#121212"/><rect x="510.02" y="559.95" width="0.87" height="2.30" fill="#48290f"/><rect x="512.65" y="560.55" width="2.62" height="1.70" fill="#121212"/><rect x="513.52" y="561.40" width="0.87" height="0.00" fill="#d2b48c"/><rect x="516.14" y="546.70" width="2.62" height="15.10" fill="#121212"/><rect x="517.02" y="547.55" width="0.87" height="13.40" fill="#d2b48c"/><rect x="519.64" y="544.10" width="2.62" height="3.40" fill="#121212"/><rect x="520.51" y="544.95" width="0.87" height="1.70" fill="#d2b48c"/><rect x="523.14" y="528.50" width="2.62" height="16.40" fill="#121212"/><rect x="524.01" y="529.35" width="0.87" height="14.70" fill="#d2b48c"/><rect x="526.63" y="527.90" width="2.62" height="2.10" fill="#121212"/><rect x="527.50" y="528.75" width="0.87" height="0.40" fill="#d2b48c"/><rect x="530.13" y="528.50" width="2.62" height="2.10" fill="#121212"/><rect x="531.00" y="529.35" width="0.87" height="0.40" fill="#48290f"/><rect x="533.62" y="507.70" width="2.62" height="21.60" fill="#121212"/><rect x="534.50" y="508.55" width="0.87" height="19.90" fill="#d2b48c"/><rect x="537.12" y="490.80" width="2.62" height="18.40" fill="#121212"/><rect x="537.99" y="491.65" width="0.87" height="16.70" fill="#d2b48c"/><rect x="540.62" y="471.90" width="2.62" height="20.00" fill="#121212"/><rect x="541.49" y="472.75" width="0.87" height="18.30" fill="#d2b48c"/><rect x="544.11" y="471.20" width="2.62" height="15.60" fill="#121212"/><rect x="544.99" y="472.05" width="0.87" height="13.90" fill="#48290f"/><rect x="547.61" y="483.40" width="2.62" height="4.60" fill="#121212"/><rect x="548.48" y="484.25" width="0.87" height="2.90" fill="#48290f"/><rect x="551.11" y="483.25" width="2.62" height="1.70" fill="#121212"/><rect x="554.60" y="482.95" width="2.62" height="1.70" fill="#121212"/><rect x="558.10" y="477.60" width="2.62" height="6.00" fill="#121212"/><rect x="558.97" y="478.45" width="0.87" height="4.30" fill="#d2b48c"/><rect x="561.59" y="478.30" width="2.62" height="3.30" fill="#121212"/><rect x="562.47" y="479.15" width="0.87" height="1.60" fill="#48290f"/><rect x="565.09" y="481.50" width="2.62" height="2.10" fill="#121212"/><rect x="565.96" y="482.35" width="0.87" height="0.40" fill="#48290f"/><rect x="568.59" y="482.35" width="2.62" height="1.70" fill="#121212"/><rect x="572.08" y="477.60" width="2.62" height="5.30" fill="#121212"/><rect x="572.96" y="478.45" width="0.87" height="3.60" fill="#d2b48c"/><rect x="575.58" y="477.60" width="2.62" height="20.00" fill="#121212"/><rect x="576.45" y="478.45" width="0.87" height="18.30" fill="#48290f"/><rect x="579.08" y="446.90" width="2.62" height="52.00" fill="#121212"/><rect x="579.95" y="447.75" width="0.87" height="50.30" fill="#d2b48c"/><rect x="582.57" y="445.00" width="2.62" height="3.40" fill="#121212"/><rect x="583.45" y="445.85" width="0.87" height="1.70" fill="#d2b48c"/><rect x="586.07" y="445.00" width="2.62" height="20.00" fill="#121212"/><rect x="586.94" y="445.85" width="0.87" height="18.30" fill="#48290f"/><rect x="589.56" y="462.30" width="2.62" height="2.10" fill="#121212"/><rect x="590.44" y="463.15" width="0.87" height="0.40" fill="#48290f"/><rect x="593.06" y="463.60" width="2.62" height="5.20" fill="#121212"/><rect x="593.93" y="464.45" width="0.87" height="3.50" fill="#48290f"/><rect x="596.56" y="468.00" width="2.62" height="4.70" fill="#121212"/><rect x="597.43" y="468.85" width="0.87" height="3.00" fill="#48290f"/><rect x="600.05" y="464.80" width="2.62" height="9.80" fill="#121212"/><rect x="600.93" y="465.65" width="0.87" height="8.10" fill="#d2b48c"/><rect x="603.55" y="434.80" width="2.62" height="30.80" fill="#121212"/><rect x="604.42" y="435.65" width="0.87" height="29.10" fill="#d2b48c"/><rect x="607.05" y="434.10" width="2.62" height="2.10" fill="#121212"/><rect x="607.92" y="434.95" width="0.87" height="0.40" fill="#d2b48c"/><rect x="610.54" y="435.40" width="2.62" height="2.10" fill="#121212"/><rect x="611.42" y="436.25" width="0.87" height="0.40" fill="#48290f"/><rect x="614.04" y="436.25" width="2.62" height="1.70" fill="#121212"/><rect x="617.54" y="423.30" width="2.62" height="14.80" fill="#121212"/><rect x="618.41" y="424.15" width="0.87" height="13.10" fill="#d2b48c"/><rect x="621.03" y="415.60" width="2.62" height="8.50" fill="#121212"/><rect x="621.90" y="416.45" width="0.87" height="6.80" fill="#d2b48c"/><rect x="624.53" y="415.00" width="2.62" height="27.60" fill="#121212"/><rect x="625.40" y="415.85" width="0.87" height="25.90" fill="#48290f"/><rect x="628.02" y="441.65" width="2.62" height="1.70" fill="#121212"/><rect x="631.52" y="442.80" width="2.62" height="2.10" fill="#121212"/><rect x="632.39" y="443.65" width="0.87" height="0.40" fill="#48290f"/><rect x="635.02" y="434.50" width="2.62" height="9.70" fill="#121212"/><rect x="635.89" y="435.35" width="0.87" height="8.00" fill="#d2b48c"/><rect x="638.51" y="426.20" width="2.62" height="9.70" fill="#121212"/><rect x="639.39" y="427.05" width="0.87" height="8.00" fill="#d2b48c"/><rect x="642.01" y="426.80" width="2.62" height="35.40" fill="#121212"/><rect x="642.88" y="427.65" width="0.87" height="33.70" fill="#48290f"/><rect x="645.51" y="449.80" width="2.62" height="12.40" fill="#121212"/><rect x="646.38" y="450.65" width="0.87" height="10.70" fill="#d2b48c"/><rect x="649.00" y="439.00" width="2.62" height="12.30" fill="#121212"/><rect x="649.87" y="439.85" width="0.87" height="10.60" fill="#d2b48c"/><rect x="652.50" y="428.10" width="2.62" height="12.90" fill="#121212"/><rect x="653.37" y="428.95" width="0.87" height="11.20" fill="#d2b48c"/><rect x="655.99" y="428.10" width="2.62" height="3.30" fill="#121212"/><rect x="656.87" y="428.95" width="0.87" height="1.60" fill="#48290f"/><rect x="659.49" y="425.60" width="2.62" height="5.20" fill="#121212"/><rect x="660.36" y="426.45" width="0.87" height="3.50" fill="#d2b48c"/><rect x="662.99" y="422.30" width="2.62" height="4.10" fill="#121212"/><rect x="663.86" y="423.15" width="0.87" height="2.40" fill="#d2b48c"/><rect x="666.48" y="421.70" width="2.62" height="20.00" fill="#121212"/><rect x="667.36" y="422.55" width="0.87" height="18.30" fill="#48290f"/><rect x="669.98" y="440.90" width="2.62" height="10.40" fill="#121212"/><rect x="670.85" y="441.75" width="0.87" height="8.70" fill="#48290f"/><rect x="673.48" y="444.10" width="2.62" height="6.50" fill="#121212"/><rect x="674.35" y="444.95" width="0.87" height="4.80" fill="#d2b48c"/><rect x="676.97" y="443.40" width="2.62" height="2.10" fill="#121212"/><rect x="677.85" y="444.25" width="0.87" height="0.40" fill="#d2b48c"/><rect x="680.47" y="440.90" width="2.62" height="11.00" fill="#121212"/><rect x="681.34" y="441.75" width="0.87" height="9.30" fill="#48290f"/><rect x="683.96" y="412.70" width="2.62" height="39.90" fill="#121212"/><rect x="684.84" y="413.55" width="0.87" height="38.20" fill="#d2b48c"/><rect x="687.46" y="393.60" width="2.62" height="19.30" fill="#121212"/><rect x="688.33" y="394.45" width="0.87" height="17.60" fill="#d2b48c"/><rect x="690.96" y="393.60" width="2.62" height="12.30" fill="#121212"/><rect x="691.83" y="394.45" width="0.87" height="10.60" fill="#48290f"/><rect x="694.45" y="405.70" width="2.62" height="2.10" fill="#121212"/><rect x="695.33" y="406.55" width="0.87" height="0.40" fill="#48290f"/><rect x="697.95" y="405.10" width="2.62" height="2.00" fill="#121212"/><rect x="698.82" y="405.95" width="0.87" height="0.30" fill="#d2b48c"/><rect x="701.45" y="404.40" width="2.62" height="3.40" fill="#121212"/><rect x="702.32" y="405.25" width="0.87" height="1.70" fill="#d2b48c"/><rect x="704.94" y="407.00" width="2.62" height="6.50" fill="#121212"/><rect x="705.82" y="407.85" width="0.87" height="4.80" fill="#48290f"/><rect x="708.44" y="412.70" width="2.62" height="16.20" fill="#121212"/><rect x="709.31" y="413.55" width="0.87" height="14.50" fill="#48290f"/><rect x="711.94" y="428.10" width="2.62" height="13.60" fill="#121212"/><rect x="712.81" y="428.95" width="0.87" height="11.90" fill="#48290f"/><rect x="715.43" y="429.40" width="2.62" height="12.30" fill="#121212"/><rect x="716.30" y="430.25" width="0.87" height="10.60" fill="#d2b48c"/><rect x="718.93" y="430.60" width="2.62" height="2.10" fill="#121212"/><rect x="719.80" y="431.45" width="0.87" height="0.40" fill="#d2b48c"/><rect x="722.42" y="431.60" width="2.62" height="13.10" fill="#121212"/><rect x="723.30" y="432.45" width="0.87" height="11.40" fill="#48290f"/><rect x="725.92" y="444.10" width="2.62" height="1.70" fill="#121212"/><rect x="729.42" y="445.00" width="2.62" height="23.10" fill="#121212"/><rect x="730.29" y="445.85" width="0.87" height="21.40" fill="#48290f"/><rect x="732.91" y="466.10" width="2.62" height="18.00" fill="#121212"/><rect x="733.79" y="466.95" width="0.87" height="16.30" fill="#48290f"/><rect x="736.41" y="481.40" width="2.62" height="4.00" fill="#121212"/><rect x="737.28" y="482.25" width="0.87" height="2.30" fill="#48290f"/><rect x="739.91" y="480.80" width="2.62" height="4.60" fill="#121212"/><rect x="740.78" y="481.65" width="0.87" height="2.90" fill="#d2b48c"/><rect x="743.40" y="478.90" width="2.62" height="2.70" fill="#121212"/><rect x="744.27" y="479.75" width="0.87" height="1.00" fill="#d2b48c"/><rect x="746.90" y="477.15" width="2.62" height="1.70" fill="#121212"/><rect x="750.39" y="476.90" width="2.62" height="7.90" fill="#121212"/><rect x="751.27" y="477.75" width="0.87" height="6.20" fill="#48290f"/><rect x="753.89" y="484.00" width="2.62" height="16.10" fill="#121212"/><rect x="754.76" y="484.85" width="0.87" height="14.40" fill="#48290f"/><rect x="757.39" y="471.80" width="2.62" height="18.70" fill="#121212"/><rect x="758.26" y="472.65" width="0.87" height="17.00" fill="#d2b48c"/><rect x="760.88" y="462.20" width="2.62" height="10.40" fill="#121212"/><rect x="761.76" y="463.05" width="0.87" height="8.70" fill="#d2b48c"/><rect x="764.38" y="458.40" width="2.62" height="4.00" fill="#121212"/><rect x="765.25" y="459.25" width="0.87" height="2.30" fill="#d2b48c"/><rect x="767.88" y="448.10" width="2.62" height="9.80" fill="#121212"/><rect x="768.75" y="448.95" width="0.87" height="8.10" fill="#d2b48c"/><rect x="771.37" y="448.10" width="2.62" height="52.70" fill="#121212"/><rect x="772.25" y="448.95" width="0.87" height="51.00" fill="#48290f"/><rect x="774.87" y="500.00" width="2.62" height="18.70" fill="#121212"/><rect x="775.74" y="500.85" width="0.87" height="17.00" fill="#48290f"/><rect x="778.36" y="516.60" width="2.62" height="5.30" fill="#121212"/><rect x="779.24" y="517.45" width="0.87" height="3.60" fill="#48290f"/><rect x="781.86" y="521.10" width="2.62" height="2.00" fill="#121212"/><rect x="782.73" y="521.95" width="0.87" height="0.30" fill="#48290f"/><rect x="785.36" y="521.70" width="2.62" height="7.80" fill="#121212"/><rect x="786.23" y="522.55" width="0.87" height="6.10" fill="#48290f"/><rect x="788.85" y="513.40" width="2.62" height="16.10" fill="#121212"/><rect x="789.73" y="514.25" width="0.87" height="14.40" fill="#d2b48c"/><rect x="792.35" y="469.90" width="2.62" height="44.30" fill="#121212"/><rect x="793.22" y="470.75" width="0.87" height="42.60" fill="#d2b48c"/><rect x="795.85" y="460.30" width="2.62" height="11.00" fill="#121212"/><rect x="796.72" y="461.15" width="0.87" height="9.30" fill="#d2b48c"/><rect x="799.34" y="457.10" width="2.62" height="2.10" fill="#121212"/><rect x="800.22" y="457.95" width="0.87" height="0.40" fill="#d2b48c"/><rect x="802.84" y="451.30" width="2.62" height="6.60" fill="#121212"/><rect x="803.71" y="452.15" width="0.87" height="4.90" fill="#d2b48c"/><rect x="806.34" y="449.40" width="2.62" height="2.10" fill="#121212"/><rect x="807.21" y="450.25" width="0.87" height="0.40" fill="#d2b48c"/><rect x="809.83" y="449.65" width="2.62" height="1.70" fill="#121212"/><rect x="813.33" y="451.30" width="2.62" height="28.40" fill="#121212"/><rect x="814.20" y="452.15" width="0.87" height="26.70" fill="#48290f"/><rect x="816.82" y="473.70" width="2.62" height="6.00" fill="#121212"/><rect x="817.70" y="474.55" width="0.87" height="4.30" fill="#d2b48c"/><rect x="820.32" y="468.90" width="2.62" height="6.80" fill="#121212"/><rect x="821.19" y="469.75" width="0.87" height="5.10" fill="#d2b48c"/><rect x="823.82" y="468.10" width="2.62" height="1.70" fill="#121212"/><rect x="827.31" y="460.20" width="2.62" height="10.20" fill="#121212"/><rect x="828.19" y="461.05" width="0.87" height="8.50" fill="#d2b48c"/><rect x="830.81" y="448.90" width="2.62" height="12.10" fill="#121212"/><rect x="831.68" y="449.75" width="0.87" height="10.40" fill="#d2b48c"/><rect x="834.31" y="446.90" width="2.62" height="3.50" fill="#121212"/><rect x="835.18" y="447.75" width="0.87" height="1.80" fill="#d2b48c"/><rect x="837.80" y="438.90" width="2.62" height="8.80" fill="#121212"/><rect x="838.68" y="439.75" width="0.87" height="7.10" fill="#d2b48c"/><rect x="841.30" y="444.20" width="2.62" height="10.20" fill="#121212"/><rect x="842.17" y="445.05" width="0.87" height="8.50" fill="#48290f"/><rect x="844.79" y="453.60" width="2.62" height="16.10" fill="#121212"/><rect x="845.67" y="454.45" width="0.87" height="14.40" fill="#48290f"/><rect x="848.29" y="462.90" width="2.62" height="6.80" fill="#121212"/><rect x="849.16" y="463.75" width="0.87" height="5.10" fill="#d2b48c"/><rect x="851.79" y="463.60" width="2.62" height="36.10" fill="#121212"/><rect x="852.66" y="464.45" width="0.87" height="34.40" fill="#48290f"/><rect x="855.28" y="498.90" width="2.62" height="22.10" fill="#121212"/><rect x="856.16" y="499.75" width="0.87" height="20.40" fill="#48290f"/><rect x="858.78" y="506.20" width="2.62" height="14.80" fill="#121212"/><rect x="859.65" y="507.05" width="0.87" height="13.10" fill="#d2b48c"/><rect x="862.28" y="507.60" width="2.62" height="2.10" fill="#121212"/><rect x="863.15" y="508.45" width="0.87" height="0.40" fill="#d2b48c"/><rect x="865.77" y="508.20" width="2.62" height="9.50" fill="#121212"/><rect x="866.65" y="509.05" width="0.87" height="7.80" fill="#48290f"/><rect x="869.27" y="482.90" width="2.62" height="34.80" fill="#121212"/><rect x="870.14" y="483.75" width="0.87" height="33.10" fill="#d2b48c"/><rect x="872.77" y="483.60" width="2.62" height="2.10" fill="#121212"/><rect x="873.64" y="484.45" width="0.87" height="0.40" fill="#d2b48c"/><rect x="876.26" y="468.90" width="2.62" height="16.10" fill="#121212"/><rect x="877.13" y="469.75" width="0.87" height="14.40" fill="#d2b48c"/><rect x="879.76" y="468.20" width="2.62" height="14.80" fill="#121212"/><rect x="880.63" y="469.05" width="0.87" height="13.10" fill="#48290f"/><rect x="883.25" y="472.20" width="2.62" height="9.50" fill="#121212"/><rect x="884.13" y="473.05" width="0.87" height="7.80" fill="#d2b48c"/><rect x="886.75" y="470.20" width="2.62" height="2.20" fill="#121212"/><rect x="887.62" y="471.05" width="0.87" height="0.50" fill="#d2b48c"/><rect x="890.25" y="469.60" width="2.62" height="19.40" fill="#121212"/><rect x="891.12" y="470.45" width="0.87" height="17.70" fill="#48290f"/><rect x="893.74" y="454.90" width="2.62" height="34.80" fill="#121212"/><rect x="894.62" y="455.75" width="0.87" height="33.10" fill="#d2b48c"/><rect x="897.24" y="454.90" width="2.62" height="47.50" fill="#121212"/><rect x="898.11" y="455.75" width="0.87" height="45.80" fill="#48290f"/><rect x="900.74" y="498.90" width="2.62" height="2.80" fill="#121212"/><rect x="901.61" y="499.75" width="0.87" height="1.10" fill="#48290f"/><rect x="904.23" y="494.20" width="2.62" height="4.80" fill="#121212"/><rect x="905.10" y="495.05" width="0.87" height="3.10" fill="#d2b48c"/><rect x="907.73" y="486.20" width="2.62" height="8.20" fill="#121212"/><rect x="908.60" y="487.05" width="0.87" height="6.50" fill="#d2b48c"/><rect x="911.22" y="468.90" width="2.62" height="18.10" fill="#121212"/><rect x="912.10" y="469.75" width="0.87" height="16.40" fill="#d2b48c"/><rect x="914.72" y="468.20" width="2.62" height="2.20" fill="#121212"/><rect x="915.59" y="469.05" width="0.87" height="0.50" fill="#d2b48c"/><rect x="918.22" y="470.60" width="2.62" height="5.30" fill="#121212"/><rect x="919.09" y="471.45" width="0.87" height="3.60" fill="#48290f"/><rect x="921.71" y="463.60" width="2.62" height="13.60" fill="#121212"/><rect x="922.59" y="464.45" width="0.87" height="11.90" fill="#d2b48c"/><rect x="925.21" y="441.80" width="2.62" height="17.40" fill="#121212"/><rect x="926.08" y="442.65" width="0.87" height="15.70" fill="#d2b48c"/><rect x="928.71" y="440.60" width="2.62" height="7.10" fill="#121212"/><rect x="929.58" y="441.45" width="0.87" height="5.40" fill="#48290f"/><rect x="932.20" y="430.90" width="2.62" height="16.80" fill="#121212"/><rect x="933.08" y="431.75" width="0.87" height="15.10" fill="#d2b48c"/><rect x="935.70" y="430.30" width="2.62" height="4.60" fill="#121212"/><rect x="936.57" y="431.15" width="0.87" height="2.90" fill="#d2b48c"/><rect x="939.19" y="430.90" width="2.62" height="39.90" fill="#121212"/><rect x="940.07" y="431.75" width="0.87" height="38.20" fill="#48290f"/><rect x="942.69" y="465.50" width="2.62" height="4.60" fill="#121212"/><rect x="943.56" y="466.35" width="0.87" height="2.90" fill="#48290f"/><rect x="946.19" y="468.85" width="2.62" height="1.70" fill="#121212"/><rect x="949.68" y="465.50" width="2.62" height="4.60" fill="#121212"/><rect x="950.56" y="466.35" width="0.87" height="2.90" fill="#d2b48c"/><rect x="953.18" y="466.10" width="2.62" height="14.30" fill="#121212"/><rect x="954.05" y="466.95" width="0.87" height="12.60" fill="#48290f"/><rect x="956.68" y="479.60" width="2.62" height="8.40" fill="#121212"/><rect x="957.55" y="480.45" width="0.87" height="6.70" fill="#48290f"/><rect x="960.17" y="471.20" width="2.62" height="16.80" fill="#121212"/><rect x="961.05" y="472.05" width="0.87" height="15.10" fill="#d2b48c"/><rect x="963.67" y="471.10" width="2.62" height="1.70" fill="#121212"/><rect x="967.17" y="468.00" width="2.62" height="7.90" fill="#121212"/><rect x="968.04" y="468.85" width="0.87" height="6.20" fill="#48290f"/><rect x="970.66" y="473.80" width="2.62" height="2.10" fill="#121212"/><rect x="971.53" y="474.65" width="0.87" height="0.40" fill="#48290f"/><rect x="974.16" y="465.50" width="2.62" height="9.10" fill="#121212"/><rect x="975.03" y="466.35" width="0.87" height="7.40" fill="#d2b48c"/><rect x="977.65" y="465.65" width="2.62" height="1.70" fill="#121212"/><rect x="981.15" y="466.80" width="2.62" height="12.90" fill="#121212"/><rect x="982.02" y="467.65" width="0.87" height="11.20" fill="#48290f"/><rect x="984.65" y="478.90" width="2.62" height="6.60" fill="#121212"/><rect x="985.52" y="479.75" width="0.87" height="4.90" fill="#48290f"/><rect x="988.14" y="483.40" width="2.62" height="2.70" fill="#121212"/><rect x="989.02" y="484.25" width="0.87" height="1.00" fill="#48290f"/><rect x="991.64" y="484.00" width="2.62" height="2.80" fill="#121212"/><rect x="992.51" y="484.85" width="0.87" height="1.10" fill="#d2b48c"/><rect x="995.14" y="483.40" width="2.62" height="28.30" fill="#121212"/><rect x="996.01" y="484.25" width="0.87" height="26.60" fill="#48290f"/><rect x="998.63" y="510.45" width="2.62" height="1.70" fill="#121212"/><rect x="1002.13" y="493.60" width="2.62" height="18.10" fill="#121212"/><rect x="1003.00" y="494.45" width="0.87" height="16.40" fill="#d2b48c"/><rect x="1005.62" y="467.40" width="2.62" height="27.00" fill="#121212"/><rect x="1006.50" y="468.25" width="0.87" height="25.30" fill="#d2b48c"/><rect x="1009.12" y="466.10" width="2.62" height="2.10" fill="#121212"/><rect x="1009.99" y="466.95" width="0.87" height="0.40" fill="#d2b48c"/><rect x="1012.62" y="463.40" width="2.62" height="3.40" fill="#121212"/><rect x="1013.49" y="464.25" width="0.87" height="1.70" fill="#d2b48c"/><rect x="1016.11" y="460.80" width="2.62" height="2.10" fill="#121212"/><rect x="1016.99" y="461.65" width="0.87" height="0.40" fill="#d2b48c"/><rect x="1019.61" y="460.80" width="2.62" height="9.80" fill="#121212"/><rect x="1020.48" y="461.65" width="0.87" height="8.10" fill="#48290f"/><rect x="1023.11" y="438.40" width="2.62" height="32.80" fill="#121212"/><rect x="1023.98" y="439.25" width="0.87" height="31.10" fill="#d2b48c"/><rect x="1026.60" y="439.10" width="2.62" height="4.60" fill="#121212"/><rect x="1027.48" y="439.95" width="0.87" height="2.90" fill="#48290f"/><rect x="1030.10" y="439.70" width="2.62" height="3.40" fill="#121212"/><rect x="1030.97" y="440.55" width="0.87" height="1.70" fill="#d2b48c"/><rect x="1033.59" y="440.25" width="2.62" height="1.70" fill="#121212"/><rect x="1037.09" y="428.20" width="2.62" height="14.90" fill="#121212"/><rect x="1037.96" y="429.05" width="0.87" height="13.20" fill="#d2b48c"/><rect x="1040.59" y="428.20" width="2.62" height="12.30" fill="#121212"/><rect x="1041.46" y="429.05" width="0.87" height="10.60" fill="#48290f"/><rect x="1044.08" y="439.70" width="2.62" height="20.00" fill="#121212"/><rect x="1044.96" y="440.55" width="0.87" height="18.30" fill="#48290f"/><rect x="1047.58" y="452.50" width="2.62" height="6.60" fill="#121212"/><rect x="1048.45" y="453.35" width="0.87" height="4.90" fill="#d2b48c"/><rect x="1051.08" y="450.60" width="2.62" height="14.20" fill="#121212"/><rect x="1051.95" y="451.45" width="0.87" height="12.50" fill="#48290f"/><rect x="1054.57" y="460.20" width="2.62" height="4.60" fill="#121212"/><rect x="1055.45" y="461.05" width="0.87" height="2.90" fill="#d2b48c"/><rect x="1058.07" y="455.70" width="2.62" height="5.90" fill="#121212"/><rect x="1058.94" y="456.55" width="0.87" height="4.20" fill="#d2b48c"/><rect x="1061.57" y="450.60" width="2.62" height="5.30" fill="#121212"/><rect x="1062.44" y="451.45" width="0.87" height="3.60" fill="#d2b48c"/><rect x="1065.06" y="413.50" width="2.62" height="39.20" fill="#121212"/><rect x="1065.93" y="414.35" width="0.87" height="37.50" fill="#d2b48c"/><rect x="1068.56" y="412.90" width="2.62" height="11.60" fill="#121212"/><rect x="1069.43" y="413.75" width="0.87" height="9.90" fill="#48290f"/><rect x="1072.05" y="423.10" width="2.62" height="3.40" fill="#121212"/><rect x="1072.93" y="423.95" width="0.87" height="1.70" fill="#d2b48c"/><rect x="1075.55" y="419.90" width="2.62" height="7.20" fill="#121212"/><rect x="1076.42" y="420.75" width="0.87" height="5.50" fill="#d2b48c"/><rect x="1079.05" y="419.90" width="2.62" height="15.50" fill="#121212"/><rect x="1079.92" y="420.75" width="0.87" height="13.80" fill="#48290f"/><rect x="1082.54" y="434.00" width="2.62" height="16.10" fill="#121212"/><rect x="1083.42" y="434.85" width="0.87" height="14.40" fill="#48290f"/><rect x="1086.04" y="432.00" width="2.62" height="18.10" fill="#121212"/><rect x="1086.91" y="432.85" width="0.87" height="16.40" fill="#d2b48c"/><rect x="1089.54" y="428.20" width="2.62" height="4.60" fill="#121212"/><rect x="1090.41" y="429.05" width="0.87" height="2.90" fill="#d2b48c"/><rect x="1093.03" y="427.55" width="2.62" height="1.70" fill="#121212"/><rect x="1096.53" y="427.55" width="2.62" height="1.70" fill="#121212"/><rect x="1100.02" y="423.70" width="2.62" height="6.00" fill="#121212"/><rect x="1100.90" y="424.55" width="0.87" height="4.30" fill="#d2b48c"/><rect x="1103.52" y="415.40" width="2.62" height="9.80" fill="#121212"/><rect x="1104.39" y="416.25" width="0.87" height="8.10" fill="#d2b48c"/><rect x="1107.02" y="408.60" width="2.62" height="8.10" fill="#121212"/><rect x="1107.89" y="409.45" width="0.87" height="6.40" fill="#d2b48c"/><rect x="1110.51" y="408.75" width="2.62" height="1.70" fill="#121212"/><rect x="1114.01" y="408.60" width="2.62" height="3.40" fill="#121212"/><rect x="1114.88" y="409.45" width="0.87" height="1.70" fill="#48290f"/><rect x="1117.51" y="403.20" width="2.62" height="8.20" fill="#121212"/><rect x="1118.38" y="404.05" width="0.87" height="6.50" fill="#d2b48c"/><rect x="1121.00" y="387.90" width="2.62" height="16.80" fill="#121212"/><rect x="1121.88" y="388.75" width="0.87" height="15.10" fill="#d2b48c"/><rect x="1124.50" y="387.45" width="2.62" height="1.70" fill="#121212"/><rect x="1127.99" y="378.60" width="2.62" height="10.10" fill="#121212"/><rect x="1128.87" y="379.45" width="0.87" height="8.40" fill="#d2b48c"/><rect x="1131.49" y="368.60" width="2.62" height="12.10" fill="#121212"/><rect x="1132.36" y="369.45" width="0.87" height="10.40" fill="#d2b48c"/><rect x="1134.99" y="367.90" width="2.62" height="7.50" fill="#121212"/><rect x="1135.86" y="368.75" width="0.87" height="5.80" fill="#48290f"/><rect x="1138.48" y="369.90" width="2.62" height="6.00" fill="#121212"/><rect x="1139.36" y="370.75" width="0.87" height="4.30" fill="#d2b48c"/><rect x="1141.98" y="371.20" width="2.62" height="10.20" fill="#121212"/><rect x="1142.85" y="372.05" width="0.87" height="8.50" fill="#48290f"/><rect x="1145.48" y="379.45" width="2.62" height="1.70" fill="#121212"/><rect x="1148.97" y="378.60" width="2.62" height="2.10" fill="#121212"/><rect x="1149.85" y="379.45" width="0.87" height="0.40" fill="#d2b48c"/><rect x="1152.47" y="341.90" width="2.62" height="37.50" fill="#121212"/><rect x="1153.34" y="342.75" width="0.87" height="35.80" fill="#d2b48c"/><rect x="1155.97" y="328.60" width="2.62" height="12.10" fill="#121212"/><rect x="1156.84" y="329.45" width="0.87" height="10.40" fill="#48290f"/><rect x="1159.46" y="337.90" width="2.62" height="2.80" fill="#121212"/><rect x="1160.33" y="338.75" width="0.87" height="1.10" fill="#48290f"/><rect x="1162.96" y="339.90" width="2.62" height="14.10" fill="#121212"/><rect x="1163.83" y="340.75" width="0.87" height="12.40" fill="#48290f"/><rect x="1166.45" y="353.20" width="2.62" height="8.20" fill="#121212"/><rect x="1167.33" y="354.05" width="0.87" height="6.50" fill="#48290f"/><rect x="1169.95" y="360.60" width="2.62" height="13.40" fill="#121212"/><rect x="1170.82" y="361.45" width="0.87" height="11.70" fill="#48290f"/><rect x="1173.45" y="371.20" width="2.62" height="4.20" fill="#121212"/><rect x="1174.32" y="372.05" width="0.87" height="2.50" fill="#d2b48c"/><rect x="1176.94" y="365.90" width="2.62" height="6.10" fill="#121212"/><rect x="1177.82" y="366.75" width="0.87" height="4.40" fill="#d2b48c"/><rect x="1180.44" y="364.60" width="2.62" height="2.10" fill="#121212"/><rect x="1181.31" y="365.45" width="0.87" height="0.40" fill="#d2b48c"/><rect x="1183.94" y="364.60" width="2.62" height="4.10" fill="#121212"/><rect x="1184.81" y="365.45" width="0.87" height="2.40" fill="#48290f"/><rect x="1187.43" y="367.90" width="2.62" height="22.10" fill="#121212"/><rect x="1188.31" y="368.75" width="0.87" height="20.40" fill="#48290f"/><rect x="1190.93" y="349.20" width="2.62" height="42.80" fill="#121212"/><rect x="1191.80" y="350.05" width="0.87" height="41.10" fill="#d2b48c"/><rect x="1194.42" y="349.20" width="2.62" height="3.50" fill="#121212"/><rect x="1195.30" y="350.05" width="0.87" height="1.80" fill="#d2b48c"/><rect x="1197.92" y="351.90" width="2.62" height="6.10" fill="#121212"/><rect x="1198.79" y="352.75" width="0.87" height="4.40" fill="#48290f"/><rect x="1201.42" y="355.30" width="2.62" height="2.50" fill="#121212"/><rect x="1202.29" y="356.15" width="0.87" height="0.80" fill="#48290f"/><rect x="1204.91" y="354.50" width="2.62" height="18.20" fill="#121212"/><rect x="1205.79" y="355.35" width="0.87" height="16.50" fill="#48290f"/><rect x="1208.41" y="365.30" width="2.62" height="7.40" fill="#121212"/><rect x="1209.28" y="366.15" width="0.87" height="5.70" fill="#d2b48c"/><rect x="1211.91" y="365.30" width="2.62" height="26.40" fill="#121212"/><rect x="1212.78" y="366.15" width="0.87" height="24.70" fill="#48290f"/><rect x="1215.40" y="391.70" width="2.62" height="7.40" fill="#121212"/><rect x="1216.28" y="392.55" width="0.87" height="5.70" fill="#48290f"/><rect x="1218.90" y="386.70" width="2.62" height="8.30" fill="#121212"/><rect x="1219.77" y="387.55" width="0.87" height="6.60" fill="#d2b48c"/><rect x="1222.40" y="386.70" width="2.62" height="8.30" fill="#121212"/><rect x="1223.27" y="387.55" width="0.87" height="6.60" fill="#48290f"/><rect x="1225.89" y="382.60" width="2.62" height="12.40" fill="#121212"/><rect x="1226.76" y="383.45" width="0.87" height="10.70" fill="#d2b48c"/><rect x="1229.39" y="378.50" width="2.62" height="10.70" fill="#121212"/><rect x="1230.26" y="379.35" width="0.87" height="9.00" fill="#d2b48c"/><rect x="1232.88" y="378.50" width="2.62" height="57.80" fill="#121212"/><rect x="1233.76" y="379.35" width="0.87" height="56.10" fill="#48290f"/><rect x="1236.38" y="435.50" width="2.62" height="6.60" fill="#121212"/><rect x="1237.25" y="436.35" width="0.87" height="4.90" fill="#48290f"/><rect x="1239.88" y="431.30" width="2.62" height="9.90" fill="#121212"/><rect x="1240.75" y="432.15" width="0.87" height="8.20" fill="#d2b48c"/><rect x="1243.37" y="431.30" width="2.62" height="7.50" fill="#121212"/><rect x="1244.25" y="432.15" width="0.87" height="5.80" fill="#48290f"/><rect x="1246.87" y="435.50" width="2.62" height="2.40" fill="#121212"/><rect x="1247.74" y="436.35" width="0.87" height="0.70" fill="#d2b48c"/><rect x="1250.37" y="434.60" width="2.62" height="21.50" fill="#121212"/><rect x="1251.24" y="435.45" width="0.87" height="19.80" fill="#48290f"/><rect x="1253.86" y="456.10" width="2.62" height="21.50" fill="#121212"/><rect x="1254.73" y="456.95" width="0.87" height="19.80" fill="#48290f"/><rect x="1257.36" y="475.95" width="2.62" height="1.70" fill="#121212"/><rect x="1260.85" y="469.30" width="2.62" height="5.80" fill="#121212"/><rect x="1261.73" y="470.15" width="0.87" height="4.10" fill="#d2b48c"/><rect x="1264.35" y="470.20" width="2.62" height="5.70" fill="#121212"/><rect x="1265.22" y="471.05" width="0.87" height="4.00" fill="#48290f"/><rect x="1267.85" y="470.20" width="2.62" height="13.20" fill="#121212"/><rect x="1268.72" y="471.05" width="0.87" height="11.50" fill="#48290f"/><rect x="1271.34" y="476.00" width="2.62" height="6.50" fill="#121212"/><rect x="1272.22" y="476.85" width="0.87" height="4.80" fill="#d2b48c"/><rect x="1274.84" y="461.90" width="2.62" height="14.90" fill="#121212"/><rect x="1275.71" y="462.75" width="0.87" height="13.20" fill="#d2b48c"/><rect x="1278.34" y="461.10" width="2.62" height="4.10" fill="#121212"/><rect x="1279.21" y="461.95" width="0.87" height="2.40" fill="#d2b48c"/><rect x="1281.83" y="462.70" width="2.62" height="3.30" fill="#121212"/><rect x="1282.71" y="463.55" width="0.87" height="1.60" fill="#d2b48c"/><rect x="1285.33" y="462.25" width="2.62" height="1.70" fill="#121212"/><rect x="1288.82" y="462.70" width="2.62" height="9.10" fill="#121212"/><rect x="1289.70" y="463.55" width="0.87" height="7.40" fill="#48290f"/><rect x="1292.32" y="451.20" width="2.62" height="19.80" fill="#121212"/><rect x="1293.19" y="452.05" width="0.87" height="18.10" fill="#d2b48c"/><rect x="1295.82" y="452.90" width="2.62" height="2.10" fill="#121212"/><rect x="1296.69" y="453.75" width="0.87" height="0.40" fill="#d2b48c"/><rect x="1299.31" y="449.60" width="2.62" height="5.40" fill="#121212"/><rect x="1300.19" y="450.45" width="0.87" height="3.70" fill="#d2b48c"/><rect x="1302.81" y="446.20" width="2.62" height="2.80" fill="#121212"/><rect x="1303.68" y="447.05" width="0.87" height="1.10" fill="#d2b48c"/><rect x="1306.31" y="448.20" width="2.62" height="3.50" fill="#121212"/><rect x="1307.18" y="449.05" width="0.87" height="1.80" fill="#48290f"/><rect x="1309.80" y="441.60" width="2.62" height="10.10" fill="#121212"/><rect x="1310.68" y="442.45" width="0.87" height="8.40" fill="#d2b48c"/><rect x="1313.30" y="441.15" width="2.62" height="1.70" fill="#121212"/><rect x="1316.80" y="441.60" width="2.62" height="4.10" fill="#121212"/><rect x="1317.67" y="442.45" width="0.87" height="2.40" fill="#48290f"/><rect x="1320.29" y="435.60" width="2.62" height="8.80" fill="#121212"/><rect x="1321.16" y="436.45" width="0.87" height="7.10" fill="#d2b48c"/><rect x="1323.79" y="435.15" width="2.62" height="1.70" fill="#121212"/><rect x="1327.28" y="432.90" width="2.62" height="4.10" fill="#121212"/><rect x="1328.16" y="433.75" width="0.87" height="2.40" fill="#d2b48c"/><rect x="1330.78" y="432.90" width="2.62" height="6.80" fill="#121212"/><rect x="1331.65" y="433.75" width="0.87" height="5.10" fill="#48290f"/><rect x="1334.28" y="420.90" width="2.62" height="18.80" fill="#121212"/><rect x="1335.15" y="421.75" width="0.87" height="17.10" fill="#d2b48c"/><rect x="1337.77" y="388.90" width="2.62" height="32.80" fill="#121212"/><rect x="1338.65" y="389.75" width="0.87" height="31.10" fill="#d2b48c"/><rect x="1341.27" y="382.90" width="2.62" height="7.50" fill="#121212"/><rect x="1342.14" y="383.75" width="0.87" height="5.80" fill="#d2b48c"/><rect x="1344.77" y="385.60" width="2.62" height="2.80" fill="#121212"/><rect x="1345.64" y="386.45" width="0.87" height="1.10" fill="#48290f"/><rect x="1348.26" y="389.15" width="2.62" height="1.70" fill="#121212"/><rect x="1351.76" y="380.90" width="2.62" height="10.10" fill="#121212"/><rect x="1352.63" y="381.75" width="0.87" height="8.40" fill="#d2b48c"/><rect x="1355.25" y="380.80" width="2.62" height="1.70" fill="#121212"/><rect x="1358.75" y="377.60" width="2.62" height="5.40" fill="#121212"/><rect x="1359.62" y="378.45" width="0.87" height="3.70" fill="#d2b48c"/><rect x="1362.25" y="377.60" width="2.62" height="2.80" fill="#121212"/><rect x="1363.12" y="378.45" width="0.87" height="1.10" fill="#48290f"/><rect x="1365.74" y="380.90" width="2.62" height="3.50" fill="#121212"/><rect x="1366.62" y="381.75" width="0.87" height="1.80" fill="#48290f"/><rect x="1369.24" y="380.90" width="2.62" height="3.50" fill="#121212"/><rect x="1370.11" y="381.75" width="0.87" height="1.80" fill="#d2b48c"/><rect x="1372.74" y="380.80" width="2.62" height="1.70" fill="#121212"/><rect x="1376.23" y="382.20" width="2.62" height="14.20" fill="#121212"/><rect x="1377.11" y="383.05" width="0.87" height="12.50" fill="#48290f"/><rect x="1379.73" y="374.90" width="2.62" height="21.50" fill="#121212"/><rect x="1380.60" y="375.75" width="0.87" height="19.80" fill="#d2b48c"/><rect x="1383.22" y="372.90" width="2.62" height="2.80" fill="#121212"/><rect x="1384.10" y="373.75" width="0.87" height="1.10" fill="#d2b48c"/><rect x="1386.72" y="370.45" width="2.62" height="1.70" fill="#121212"/><rect x="1390.22" y="370.15" width="2.62" height="1.70" fill="#121212"/><rect x="1393.71" y="360.00" width="2.62" height="10.80" fill="#121212"/><rect x="1394.59" y="360.85" width="0.87" height="9.10" fill="#d2b48c"/><rect x="1397.21" y="360.00" width="2.62" height="8.00" fill="#121212"/><rect x="1398.08" y="360.85" width="0.87" height="6.30" fill="#48290f"/><rect x="1400.71" y="352.00" width="2.62" height="16.40" fill="#121212"/><rect x="1401.58" y="352.85" width="0.87" height="14.70" fill="#d2b48c"/><rect x="1404.20" y="352.80" width="2.62" height="7.20" fill="#121212"/><rect x="1405.08" y="353.65" width="0.87" height="5.50" fill="#48290f"/><rect x="1407.70" y="359.20" width="2.62" height="2.80" fill="#121212"/><rect x="1408.57" y="360.05" width="0.87" height="1.10" fill="#48290f"/><rect x="1411.20" y="359.20" width="2.62" height="2.80" fill="#121212"/><rect x="1412.07" y="360.05" width="0.87" height="1.10" fill="#d2b48c"/><rect x="1414.69" y="356.00" width="2.62" height="3.60" fill="#121212"/><rect x="1415.56" y="356.85" width="0.87" height="1.90" fill="#d2b48c"/><rect x="1418.19" y="349.20" width="2.62" height="7.60" fill="#121212"/><rect x="1419.06" y="350.05" width="0.87" height="5.90" fill="#d2b48c"/><rect x="1421.68" y="348.40" width="2.62" height="31.60" fill="#121212"/><rect x="1422.56" y="349.25" width="0.87" height="29.90" fill="#48290f"/><rect x="1425.18" y="379.20" width="2.62" height="6.40" fill="#121212"/><rect x="1426.05" y="380.05" width="0.87" height="4.70" fill="#48290f"/><rect x="1428.68" y="385.20" width="2.62" height="7.60" fill="#121212"/><rect x="1429.55" y="386.05" width="0.87" height="5.90" fill="#48290f"/><rect x="1432.17" y="390.75" width="2.62" height="1.70" fill="#121212"/><rect x="1435.67" y="390.80" width="2.62" height="2.00" fill="#121212"/><rect x="1436.54" y="391.65" width="0.87" height="0.30" fill="#d2b48c"/>
<polyline points="0.00,333.40 3.50,339.44 6.99,345.62 10.49,350.16 13.99,353.70 17.48,357.25 20.98,361.62 24.47,365.25 27.97,367.80 31.47,369.22 34.96,369.88 38.46,368.75 41.96,368.07 45.45,368.96 48.95,369.65 52.44,369.21 55.94,369.16 59.44,366.04 62.93,362.98 66.43,360.26 69.93,358.09 73.42,356.36 76.92,353.51 80.41,352.16 83.91,351.26 87.41,350.24 90.90,348.47 94.40,348.55 97.90,349.62 101.39,350.93 104.89,353.72 108.39,357.71 111.88,361.09 115.38,363.37 118.87,365.99 122.37,376.71 125.87,385.11 129.36,392.59 132.86,399.10 136.36,403.42 139.85,406.77 143.35,405.55 146.84,404.07 150.34,402.40 153.84,399.90 157.33,397.67 160.83,392.95 164.33,387.84 167.82,384.90 171.32,381.78 174.81,379.93 178.31,378.68 181.81,377.31 185.30,375.66 188.80,373.36 192.30,371.51 195.79,369.83 199.29,369.54 202.79,374.76 206.28,376.51 209.78,376.34 213.27,377.64 216.77,378.82 220.27,380.47 223.76,381.68 227.26,381.54 230.76,381.60 234.25,381.01 237.75,381.05 241.24,380.94 244.74,381.76 248.24,383.13 251.73,386.02 255.23,388.27 258.73,390.89 262.22,394.08 265.72,396.97 269.22,398.95 272.71,400.32 276.21,400.86 279.70,402.70 283.20,401.92 286.70,402.50 290.19,399.41 293.69,397.37 297.19,395.46 300.68,393.73 304.18,390.64 307.67,387.72 311.17,384.44 314.67,381.38 318.16,379.16 321.66,375.48 325.16,371.47 328.65,366.88 332.15,368.38 335.64,371.51 339.14,373.78 342.64,375.51 346.13,377.46 349.63,379.23 353.13,379.62 356.62,384.28 360.12,389.54 363.62,395.34 367.11,399.97 370.61,405.31 374.10,408.56 377.60,412.66 381.10,416.62 384.59,420.07 388.09,422.41 391.59,426.47 395.08,429.96 398.58,434.82 402.07,438.43 405.57,441.76 409.07,445.48 412.56,450.46 416.06,458.58 419.56,466.74 423.05,473.20 426.55,479.05 430.04,483.63 433.54,487.70 437.04,492.83 440.53,496.91 444.03,499.19 447.53,500.55 451.02,501.29 454.52,502.18 458.02,503.08 461.51,502.69 465.01,502.09 468.50,500.68 472.00,501.46 475.50,501.72 478.99,501.46 482.49,500.80 485.99,500.07 489.48,498.55 492.98,497.67 496.47,500.65 499.97,506.87 503.47,511.57 506.96,516.01 510.46,520.46 513.96,524.33 517.45,526.50 520.95,528.21 524.45,528.28 527.94,528.28 531.44,528.46 534.93,526.52 538.43,523.16 541.93,518.31 545.42,515.27 548.92,512.64 552.42,509.89 555.91,507.38 559.41,504.58 562.90,502.35 566.40,500.53 569.90,498.85 573.39,496.87 576.89,496.90 580.39,492.17 583.88,487.72 587.38,485.52 590.87,483.47 594.37,482.03 597.87,481.11 601.36,479.59 604.86,475.36 608.36,471.47 611.85,468.20 615.35,465.26 618.85,461.31 622.34,456.99 625.84,455.58 629.33,454.37 632.83,453.43 636.33,451.66 639.82,449.27 643.32,450.47 646.82,450.44 650.31,449.39 653.81,447.40 657.30,445.84 660.80,443.95 664.30,441.93 667.79,441.87 671.29,442.73 674.79,442.90 678.28,442.98 681.78,443.79 685.27,440.87 688.77,436.41 692.27,433.46 695.76,430.98 699.26,428.55 702.76,426.29 706.25,425.04 709.75,425.37 713.25,426.88 716.74,427.16 720.24,427.53 723.73,429.12 727.23,430.59 730.73,434.12 734.22,438.84 737.72,443.24 741.22,446.86 744.71,449.95 748.21,452.59 751.70,455.62 755.20,459.82 758.70,461.00 762.19,461.15 765.69,460.92 769.19,459.74 772.68,463.61 776.18,468.82 779.67,473.84 783.17,478.49 786.67,483.31 790.16,486.22 793.66,484.70 797.16,482.41 800.65,480.04 804.15,477.34 807.65,474.72 811.14,472.38 814.64,473.04 818.13,473.14 821.63,472.78 825.13,472.38 828.62,471.26 832.12,469.17 835.62,467.08 839.11,464.44 842.61,463.44 846.10,464.00 849.60,463.93 853.10,467.30 856.59,472.38 860.09,475.64 863.59,478.72 867.08,482.39 870.58,482.48 874.08,482.63 877.57,481.36 881.07,481.47 884.56,480.63 888.06,479.67 891.56,480.52 895.05,478.12 898.55,480.40 902.05,482.39 905.54,483.55 909.04,483.84 912.53,482.46 916.03,481.14 919.53,480.60 923.02,479.02 926.52,475.51 930.02,472.83 933.51,468.87 937.01,465.24 940.50,465.73 944.00,466.11 947.50,466.42 950.99,466.37 954.49,467.67 957.99,469.57 961.48,469.76 964.98,469.94 968.48,470.47 971.97,470.94 975.47,470.46 978.96,470.06 982.46,470.94 985.96,472.29 989.45,473.56 992.95,474.60 996.45,478.09 999.94,481.23 1003.44,482.44 1006.93,481.05 1010.43,479.66 1013.93,478.15 1017.42,476.54 1020.92,475.93 1024.42,472.40 1027.91,469.63 1031.41,466.81 1034.90,464.34 1038.40,460.93 1041.90,458.95 1045.39,458.98 1048.89,458.40 1052.39,458.97 1055.88,459.13 1059.38,458.84 1062.88,458.09 1066.37,453.88 1069.87,451.05 1073.36,448.42 1076.86,445.75 1080.36,444.72 1083.85,445.20 1087.35,443.98 1090.85,442.51 1094.34,441.14 1097.84,439.90 1101.33,438.39 1104.83,436.24 1108.33,433.65 1111.82,431.33 1115.32,429.45 1118.82,426.99 1122.31,423.30 1125.81,419.94 1129.30,416.04 1132.80,411.56 1136.30,408.08 1139.79,404.48 1143.29,402.25 1146.79,400.18 1150.28,398.17 1153.78,392.85 1157.28,387.84 1160.77,383.31 1164.27,380.48 1167.76,378.63 1171.26,378.15 1174.76,377.53 1178.25,376.46 1181.75,375.37 1185.25,374.69 1188.74,376.11 1192.24,373.59 1195.73,371.30 1199.23,370.00 1202.73,368.80 1206.22,369.13 1209.72,368.80 1213.22,370.95 1216.71,373.59 1220.21,374.88 1223.71,376.76 1227.20,377.35 1230.70,377.50 1234.19,383.06 1237.69,388.64 1241.19,392.75 1244.68,397.09 1248.18,400.79 1251.68,406.02 1255.17,412.80 1258.67,418.93 1262.16,423.77 1265.66,428.69 1269.16,433.87 1272.65,437.92 1276.15,440.24 1279.65,442.26 1283.14,444.25 1286.64,446.01 1290.13,448.43 1293.63,448.73 1297.13,449.17 1300.62,449.25 1304.12,449.00 1307.62,449.22 1311.11,448.53 1314.61,447.88 1318.11,447.63 1321.60,446.52 1325.10,445.49 1328.59,444.33 1332.09,443.85 1335.59,441.71 1339.08,436.71 1342.58,431.63 1346.08,427.47 1349.57,423.87 1353.07,419.82 1356.56,416.15 1360.06,412.52 1363.56,409.42 1367.05,407.00 1370.55,404.55 1374.05,402.34 1377.54,401.73 1381.04,399.22 1384.53,396.75 1388.03,394.30 1391.53,392.05 1395.02,389.03 1398.52,386.99 1402.02,383.70 1405.51,381.40 1409.01,379.52 1412.51,377.62 1416.00,375.60 1419.50,373.12 1422.99,373.74 1426.49,374.83 1429.99,376.50 1433.48,377.91 1436.98,379.18" fill="none" stroke="#ff8c00" stroke-width="1.8" stroke-linejoin="round"/>
<rect x="1478.6" y="334.09999999999997" width="24.90000000000009" height="1.2" fill="#ff2020"/>
<rect x="1503.5" y="320.5" width="62" height="27" fill="#fff" stroke="#ff3030" stroke-width="1"/>
<text x="1508.2" y="343.6" font-family="DejaVu Sans, sans-serif" font-size="22.7" fill="#ff0000" textLength="58" lengthAdjust="spacingAndGlyphs">78.50</text>
<rect x="1475" y="438.0" width="25" height="1.2" fill="#ff2020"/>
<rect x="1500.0" y="425.0" width="61.5" height="26.5" fill="#fff" stroke="#ff3030" stroke-width="1"/>
<text x="1504.5" y="447.6" font-family="DejaVu Sans, sans-serif" font-size="22.7" fill="#ff0000" textLength="58" lengthAdjust="spacingAndGlyphs">74.00</text>
<rect x="1429.5" y="519.6" width="24.90000000000009" height="1.2" fill="#ff2020"/>
<rect x="1454.5" y="506.5" width="61.5" height="26.5" fill="#fff" stroke="#ff3030" stroke-width="1"/>
<text x="1459.1" y="528.9" font-family="DejaVu Sans, sans-serif" font-size="22.7" fill="#ff0000" textLength="58" lengthAdjust="spacingAndGlyphs">70.50</text>
<rect x="1429.5" y="577.0" width="24.90000000000009" height="1.2" fill="#ff2020"/>
<rect x="1454.5" y="564.0" width="61.5" height="26.5" fill="#fff" stroke="#ff3030" stroke-width="1"/>
<text x="1459.1" y="586.3" font-family="DejaVu Sans, sans-serif" font-size="22.7" fill="#ff0000" textLength="58" lengthAdjust="spacingAndGlyphs">68.00</text>
<text x="4.0" y="10.8" font-family="DejaVu Sans, sans-serif" font-size="10.5" fill="#000" textLength="261.6" lengthAdjust="spacingAndGlyphs" xml:space="preserve">USOil, H4:  Crude Oil (WTI)  76.01 76.16 75.99 76.05</text>
<rect x="0" y="648.9" width="1627" height="1" fill="#222"/>
<rect x="0" y="649.9" width="1627" height="1" fill="#bbb"/>
<rect x="0" y="650.9" width="1627" height="1" fill="#444"/>
<text x="2.1" y="664.8" font-family="DejaVu Sans, sans-serif" font-size="10.7" fill="#000" textLength="146.4" lengthAdjust="spacingAndGlyphs">RSI(14) 45.38 MA(10) 53.315</text>
<rect x="0" y="730.1" width="1627" height="1.8" fill="#000"/>
<rect x="0" y="838.6" width="1627" height="1.7" fill="#000"/>
<polyline points="0.00,850.10 3.50,841.35 6.99,844.49 10.49,832.97 13.99,827.11 17.48,829.01 20.98,835.55 24.47,831.57 27.97,822.78 31.47,812.55 34.96,805.62 38.46,787.87 41.96,791.01 45.45,804.04 48.95,802.78 52.44,791.27 55.94,794.49 59.44,765.84 62.93,764.03 66.43,764.47 69.93,768.03 73.42,770.88 76.92,758.57 80.41,773.90 83.91,777.85 87.41,775.45 90.90,766.46 94.40,787.02 97.90,797.57 101.39,800.96 104.89,816.03 108.39,827.40 111.88,824.19 115.38,813.32 118.87,818.26 122.37,861.62 125.87,847.69 129.36,846.24 132.86,843.31 136.36,826.11 139.85,820.24 143.35,783.88 146.84,781.17 150.34,778.72 153.84,771.52 157.33,771.78 160.83,753.32 164.33,748.34 167.82,764.49 171.32,761.48 174.81,770.59 178.31,774.60 181.81,772.63 185.30,769.15 188.80,762.35 192.30,765.04 195.79,765.04 199.29,779.95 202.79,824.31 206.28,797.10 209.78,783.86 213.27,794.03 216.77,794.03 220.27,798.31 223.76,795.65 227.26,784.91 230.76,786.40 234.25,780.62 237.75,786.19 241.24,784.67 244.74,793.79 248.24,799.88 251.73,814.01 255.23,809.67 258.73,814.64 262.22,821.39 265.72,821.39 269.22,812.04 272.71,806.16 276.21,796.31 279.70,810.52 283.20,781.22 286.70,794.24 290.19,762.14 293.69,769.74 297.19,769.20 300.68,769.20 304.18,756.47 307.67,755.49 311.17,750.33 314.67,749.55 318.16,757.34 321.66,743.32 325.16,738.12 328.65,731.43 332.15,793.09 335.64,805.79 339.14,800.60 342.64,797.68 346.13,800.70 349.63,800.70 353.13,788.15 356.62,820.19 360.12,826.11 363.62,831.75 367.11,825.13 370.61,831.66 374.10,814.91 377.60,822.07 381.10,823.59 384.59,822.15 388.09,812.90 391.59,826.28 395.08,824.22 398.58,834.87 402.07,825.13 405.57,825.58 409.07,830.46 412.56,840.62 416.06,857.64 419.56,860.72 423.05,848.86 426.55,848.86 430.04,839.34 433.54,838.16 437.04,846.58 440.53,838.56 444.03,819.72 447.53,811.22 451.02,805.25 454.52,807.33 458.02,808.15 461.51,792.58 465.01,789.52 468.50,779.10 472.00,801.65 475.50,796.27 478.99,790.21 482.49,784.99 485.99,783.45 489.48,772.86 492.98,779.72 496.47,818.58 499.97,840.78 503.47,829.64 506.96,830.79 510.46,833.46 513.96,831.39 517.45,813.95 520.95,810.86 524.45,793.37 527.94,792.73 531.44,794.65 534.93,771.69 538.43,757.62 541.93,744.45 545.42,760.17 548.92,761.47 552.42,758.46 555.91,758.22 559.41,753.53 562.90,757.93 566.40,760.76 569.90,760.45 573.39,755.24 576.89,782.61 580.39,740.53 583.88,739.37 587.38,761.55 590.87,761.09 594.37,766.09 597.87,770.58 601.36,764.06 604.86,741.53 608.36,741.08 611.85,744.55 615.35,744.97 618.85,734.93 622.34,729.82 625.84,764.18 629.33,764.87 632.83,766.95 636.33,758.16 639.82,751.09 643.32,789.98 646.82,779.41 650.31,770.31 653.81,761.76 657.30,764.49 660.80,760.39 664.30,757.65 667.79,778.94 671.29,788.53 674.79,782.09 678.28,781.38 681.78,789.79 685.27,755.46 688.77,743.19 692.27,755.60 695.76,757.63 699.26,756.22 702.76,755.67 706.25,765.86 709.75,782.86 713.25,795.19 716.74,783.59 720.24,784.81 723.73,797.82 727.23,798.01 730.73,817.88 734.22,828.92 737.72,829.77 741.22,824.64 744.71,822.00 748.21,819.67 751.70,825.46 755.20,837.23 758.70,800.98 762.19,790.73 765.69,786.77 769.19,776.39 772.68,818.37 776.18,828.34 779.67,830.04 783.17,830.71 786.67,834.37 790.16,816.84 793.66,779.21 797.16,772.63 800.65,770.43 804.15,766.35 807.65,764.98 811.14,765.39 814.64,792.17 818.13,787.59 821.63,783.32 825.13,782.67 828.62,775.20 832.12,765.31 835.62,763.60 839.11,756.78 842.61,774.14 846.10,789.68 849.60,783.67 853.10,813.38 856.59,826.40 860.09,812.41 863.59,813.32 867.08,819.44 870.58,788.31 874.08,788.85 877.57,777.17 881.07,788.01 884.56,780.03 888.06,778.43 891.56,793.53 895.05,768.41 898.55,800.17 902.05,799.66 905.54,794.64 909.04,788.67 912.53,776.49 916.03,776.00 919.53,781.62 923.02,773.02 926.52,758.55 930.02,763.20 933.51,753.17 937.01,752.80 940.50,786.73 944.00,786.21 947.50,785.97 950.99,783.02 954.49,794.83 957.99,800.80 961.48,786.11 964.98,786.11 968.48,789.71 971.97,789.71 975.47,779.78 978.96,780.11 982.46,794.26 985.96,800.04 989.45,800.66 992.95,798.89 996.45,824.07 999.94,823.63 1003.44,800.77 1006.93,773.72 1010.43,772.55 1013.93,770.00 1017.42,767.46 1020.92,778.61 1024.42,750.92 1027.91,756.36 1031.41,753.80 1034.90,754.74 1038.40,744.72 1041.90,760.25 1045.39,782.21 1048.89,776.00 1052.39,788.02 1055.88,784.04 1059.38,779.29 1062.88,773.93 1066.37,743.53 1069.87,755.49 1073.36,755.04 1076.86,752.52 1080.36,770.29 1083.85,785.64 1087.35,770.05 1090.85,766.88 1094.34,766.44 1097.84,766.44 1101.33,762.54 1104.83,754.69 1108.33,748.63 1111.82,749.10 1115.32,752.89 1118.82,745.00 1122.31,732.03 1125.81,731.80 1129.30,724.85 1132.80,717.93 1136.30,729.31 1139.79,725.71 1143.29,745.15 1146.79,744.77 1150.28,743.16 1153.78,715.59 1157.28,714.47 1160.77,714.47 1164.27,738.38 1167.76,750.22 1171.26,768.36 1174.76,766.24 1178.25,760.59 1181.75,759.18 1185.25,764.58 1188.74,794.00 1192.24,754.16 1195.73,754.16 1199.23,764.17 1202.73,763.99 1206.22,781.98 1209.72,775.10 1213.22,801.04 1216.71,807.32 1220.21,794.47 1223.71,801.24 1227.20,788.80 1230.70,784.58 1234.19,827.02 1237.69,830.11 1241.19,819.68 1244.68,823.72 1248.18,820.96 1251.68,832.81 1255.17,843.53 1258.67,843.53 1262.16,834.40 1265.66,837.65 1269.16,841.79 1272.65,833.11 1276.15,815.83 1279.65,814.88 1283.14,816.17 1286.64,815.76 1290.13,823.14 1293.63,797.37 1297.13,799.04 1300.62,794.92 1304.12,790.62 1307.62,796.11 1311.11,784.01 1314.61,783.63 1318.11,788.51 1321.60,775.98 1325.10,775.58 1328.59,772.28 1332.09,782.06 1335.59,758.81 1339.08,733.45 1342.58,730.71 1346.08,738.28 1349.57,741.07 1353.07,734.55 1356.56,734.55 1360.06,731.88 1363.56,735.89 1367.05,743.97 1370.55,741.22 1374.05,741.22 1377.54,770.56 1381.04,747.53 1384.53,745.65 1388.03,743.41 1391.53,743.10 1395.02,733.10 1398.52,747.82 1402.02,733.67 1405.51,747.12 1409.01,750.79 1412.51,748.65 1416.00,745.19 1419.50,738.13 1422.99,784.38 1426.49,791.31 1429.99,799.82 1433.48,798.21 1436.98,798.06" fill="none" stroke="#4a2a12" stroke-width="1.5" stroke-linejoin="round"/>
<polyline points="0.00,843.00 3.50,842.70 6.99,843.02 10.49,841.20 13.99,838.64 17.48,836.89 20.98,836.64 24.47,835.72 27.97,833.37 31.47,829.58 34.96,825.23 38.46,818.43 41.96,813.45 45.45,811.74 48.95,810.11 52.44,806.69 55.94,804.47 59.44,797.45 62.93,791.37 66.43,786.48 69.93,783.12 73.42,780.90 76.92,776.84 80.41,776.30 83.91,776.58 87.41,776.38 90.90,774.57 94.40,776.84 97.90,780.61 101.39,784.31 104.89,790.07 108.39,796.86 111.88,801.83 115.38,803.92 118.87,806.53 122.37,816.54 125.87,822.21 129.36,826.58 132.86,829.62 136.36,828.98 139.85,827.39 143.35,819.48 146.84,812.52 150.34,806.37 153.84,800.03 157.33,794.90 160.83,787.34 164.33,780.25 167.82,777.38 171.32,774.49 174.81,773.78 178.31,773.93 181.81,773.69 185.30,772.87 188.80,770.96 192.30,769.88 195.79,769.00 199.29,770.99 202.79,780.69 206.28,783.67 209.78,783.70 213.27,785.58 216.77,787.12 220.27,789.15 223.76,790.34 227.26,789.35 230.76,788.81 234.25,787.32 237.75,787.12 241.24,786.67 244.74,787.97 248.24,790.13 251.73,794.47 255.23,797.24 258.73,800.40 262.22,804.22 265.72,807.34 269.22,808.19 272.71,807.82 276.21,805.73 279.70,806.60 283.20,801.98 286.70,800.58 290.19,793.59 293.69,789.25 297.19,785.61 300.68,782.62 304.18,777.87 307.67,773.80 311.17,769.53 314.67,765.90 318.16,764.34 321.66,760.52 325.16,756.45 328.65,751.90 332.15,759.39 335.64,767.83 339.14,773.78 342.64,778.13 346.13,782.23 349.63,785.59 353.13,786.06 356.62,792.26 360.12,798.42 363.62,804.48 367.11,808.23 370.61,812.49 374.10,812.93 377.60,814.59 381.10,816.23 384.59,817.30 388.09,816.50 391.59,818.28 395.08,819.36 398.58,822.18 402.07,822.72 405.57,823.24 409.07,824.55 412.56,827.47 416.06,832.96 419.56,838.00 423.05,839.98 426.55,841.59 430.04,841.18 433.54,840.63 437.04,841.71 440.53,841.14 444.03,837.25 447.53,832.51 451.02,827.56 454.52,823.88 458.02,821.02 461.51,815.85 465.01,811.06 468.50,805.25 472.00,804.60 475.50,803.08 478.99,800.74 482.49,797.88 485.99,795.25 489.48,791.18 492.98,789.10 496.47,794.46 499.97,802.88 503.47,807.75 506.96,811.94 510.46,815.85 513.96,818.67 517.45,817.82 520.95,816.55 524.45,812.34 527.94,808.77 531.44,806.20 534.93,799.93 538.43,792.24 541.93,783.55 545.42,779.30 548.92,776.06 552.42,772.86 555.91,770.20 559.41,767.17 562.90,765.49 566.40,764.63 569.90,763.87 573.39,762.30 576.89,765.99 580.39,761.36 583.88,757.37 587.38,758.13 590.87,758.66 594.37,760.01 597.87,761.94 601.36,762.32 604.86,758.54 608.36,755.37 611.85,753.40 615.35,751.87 618.85,748.79 622.34,745.34 625.84,748.76 629.33,751.69 632.83,754.47 636.33,755.14 639.82,754.40 643.32,760.87 646.82,764.24 650.31,765.35 653.81,764.69 657.30,764.66 660.80,763.88 664.30,762.75 667.79,765.69 671.29,769.84 674.79,772.07 678.28,773.76 681.78,776.68 685.27,772.82 688.77,767.43 692.27,765.28 695.76,763.89 699.26,762.49 702.76,761.25 706.25,762.09 709.75,765.87 713.25,771.20 716.74,773.45 720.24,775.52 723.73,779.57 727.23,782.92 730.73,789.28 734.22,796.49 737.72,802.54 741.22,806.56 744.71,809.36 748.21,811.24 751.70,813.82 755.20,818.08 758.70,814.97 762.19,810.56 765.69,806.24 769.19,800.81 772.68,804.00 776.18,808.43 779.67,812.36 783.17,815.70 786.67,819.09 790.16,818.68 793.66,811.50 797.16,804.44 800.65,798.25 804.15,792.45 807.65,787.46 811.14,783.44 814.64,785.03 818.13,785.50 821.63,785.10 825.13,784.66 828.62,782.94 832.12,779.73 835.62,776.80 839.11,773.16 842.61,773.34 846.10,776.31 849.60,777.65 853.10,784.15 856.59,791.83 860.09,795.57 863.59,798.80 867.08,802.55 870.58,799.96 874.08,797.94 877.57,794.16 881.07,793.05 884.56,790.68 888.06,788.45 891.56,789.38 895.05,785.56 898.55,788.22 902.05,790.30 905.54,791.09 909.04,790.65 912.53,788.07 916.03,785.88 919.53,785.10 923.02,782.91 926.52,778.48 930.02,775.70 933.51,771.61 937.01,768.19 940.50,771.56 944.00,774.22 947.50,776.36 950.99,777.57 954.49,780.71 957.99,784.36 961.48,784.68 964.98,784.94 968.48,785.81 971.97,786.52 975.47,785.29 978.96,784.35 982.46,786.15 985.96,788.68 989.45,790.85 992.95,792.32 996.45,798.09 999.94,802.73 1003.44,802.38 1006.93,797.17 1010.43,792.69 1013.93,788.56 1017.42,784.73 1020.92,783.62 1024.42,777.67 1027.91,773.80 1031.41,770.16 1034.90,767.36 1038.40,763.24 1041.90,762.70 1045.39,766.24 1048.89,768.02 1052.39,771.65 1055.88,773.91 1059.38,774.89 1062.88,774.71 1066.37,769.04 1069.87,766.58 1073.36,764.48 1076.86,762.31 1080.36,763.76 1083.85,767.74 1087.35,768.16 1090.85,767.92 1094.34,767.65 1097.84,767.43 1101.33,766.54 1104.83,764.39 1108.33,761.52 1111.82,759.26 1115.32,758.10 1118.82,755.72 1122.31,751.42 1125.81,747.85 1129.30,743.67 1132.80,738.99 1136.30,737.23 1139.79,735.13 1143.29,736.95 1146.79,738.37 1150.28,739.24 1153.78,734.94 1157.28,731.22 1160.77,728.18 1164.27,730.03 1167.76,733.70 1171.26,740.01 1174.76,744.78 1178.25,747.65 1181.75,749.75 1185.25,752.44 1188.74,760.00 1192.24,758.94 1195.73,758.07 1199.23,759.18 1202.73,760.05 1206.22,764.04 1209.72,766.05 1213.22,772.41 1216.71,778.76 1220.21,781.62 1223.71,785.18 1227.20,785.84 1230.70,785.61 1234.19,793.14 1237.69,799.86 1241.19,803.47 1244.68,807.15 1248.18,809.66 1251.68,813.87 1255.17,819.26 1258.67,823.68 1262.16,825.63 1265.66,827.81 1269.16,830.35 1272.65,830.86 1276.15,828.12 1279.65,825.72 1283.14,823.98 1286.64,822.49 1290.13,822.61 1293.63,818.02 1297.13,814.57 1300.62,810.99 1304.12,807.29 1307.62,805.26 1311.11,801.39 1314.61,798.16 1318.11,796.41 1321.60,792.69 1325.10,789.58 1328.59,786.44 1332.09,785.64 1335.59,780.76 1339.08,772.16 1342.58,764.62 1346.08,759.83 1349.57,756.42 1353.07,752.44 1356.56,749.19 1360.06,746.04 1363.56,744.20 1367.05,744.16 1370.55,743.62 1374.05,743.18 1377.54,748.16 1381.04,748.05 1384.53,747.61 1388.03,746.85 1391.53,746.17 1395.02,743.79 1398.52,744.52 1402.02,742.55 1405.51,743.38 1409.01,744.73 1412.51,745.44 1416.00,745.40 1419.50,744.07 1422.99,751.40 1426.49,758.66 1429.99,766.14 1433.48,771.97 1436.98,776.72" fill="none" stroke="#ff8c00" stroke-width="1.4" stroke-linejoin="round"/>
<rect x="0" y="919.8" width="1627" height="1.3" fill="#222"/>
<rect x="-0.3" y="920" width="1" height="4" fill="#333"/>
<text x="-0.4" y="934.1" font-family="DejaVu Sans, sans-serif" font-size="10.1" fill="#000" textLength="56.8" lengthAdjust="spacingAndGlyphs">8 Nov 2023</text>
<rect x="111.1" y="920" width="1" height="4" fill="#333"/>
<text x="111.0" y="934.1" font-family="DejaVu Sans, sans-serif" font-size="10.1" fill="#000" textLength="66.4" lengthAdjust="spacingAndGlyphs">16 Nov 04:00</text>
<rect x="223.0" y="920" width="1" height="4" fill="#333"/>
<text x="222.9" y="934.1" font-family="DejaVu Sans, sans-serif" font-size="10.1" fill="#000" textLength="66.4" lengthAdjust="spacingAndGlyphs">23 Nov 12:00</text>
<rect x="334.9" y="920" width="1" height="4" fill="#333"/>
<text x="334.8" y="934.1" font-family="DejaVu Sans, sans-serif" font-size="10.1" fill="#000" textLength="66.4" lengthAdjust="spacingAndGlyphs">30 Nov 20:00</text>
<rect x="446.8" y="920" width="1" height="4" fill="#333"/>
<text x="446.7" y="934.1" font-family="DejaVu Sans, sans-serif" font-size="10.1" fill="#000" textLength="60.0" lengthAdjust="spacingAndGlyphs">8 Dec 04:00</text>
<rect x="558.7" y="920" width="1" height="4" fill="#333"/>
<text x="558.6" y="934.1" font-family="DejaVu Sans, sans-serif" font-size="10.1" fill="#000" textLength="66.2" lengthAdjust="spacingAndGlyphs">15 Dec 12:00</text>
<rect x="670.6" y="920" width="1" height="4" fill="#333"/>
<text x="670.5" y="934.1" font-family="DejaVu Sans, sans-serif" font-size="10.1" fill="#000" textLength="66.2" lengthAdjust="spacingAndGlyphs">22 Dec 20:00</text>
<rect x="782.5" y="920" width="1" height="4" fill="#333"/>
<text x="782.4" y="934.1" font-family="DejaVu Sans, sans-serif" font-size="10.1" fill="#000" textLength="56.1" lengthAdjust="spacingAndGlyphs">3 Jan 04:00</text>
<rect x="894.4" y="920" width="1" height="4" fill="#333"/>
<text x="894.3" y="934.1" font-family="DejaVu Sans, sans-serif" font-size="10.1" fill="#000" textLength="62.4" lengthAdjust="spacingAndGlyphs">10 Jan 12:00</text>
<rect x="1006.3" y="920" width="1" height="4" fill="#333"/>
<text x="1006.2" y="934.1" font-family="DejaVu Sans, sans-serif" font-size="10.1" fill="#000" textLength="62.4" lengthAdjust="spacingAndGlyphs">17 Jan 20:00</text>
<rect x="1118.2" y="920" width="1" height="4" fill="#333"/>
<text x="1118.1" y="934.1" font-family="DejaVu Sans, sans-serif" font-size="10.1" fill="#000" textLength="62.4" lengthAdjust="spacingAndGlyphs">25 Jan 04:00</text>
<rect x="1230.1" y="920" width="1" height="4" fill="#333"/>
<text x="1230.0" y="934.1" font-family="DejaVu Sans, sans-serif" font-size="10.1" fill="#000" textLength="58.4" lengthAdjust="spacingAndGlyphs">1 Feb 12:00</text>
<rect x="1342.0" y="920" width="1" height="4" fill="#333"/>
<text x="1341.9" y="934.1" font-family="DejaVu Sans, sans-serif" font-size="10.1" fill="#000" textLength="58.4" lengthAdjust="spacingAndGlyphs">8 Feb 20:00</text>
</svg></body></html>
